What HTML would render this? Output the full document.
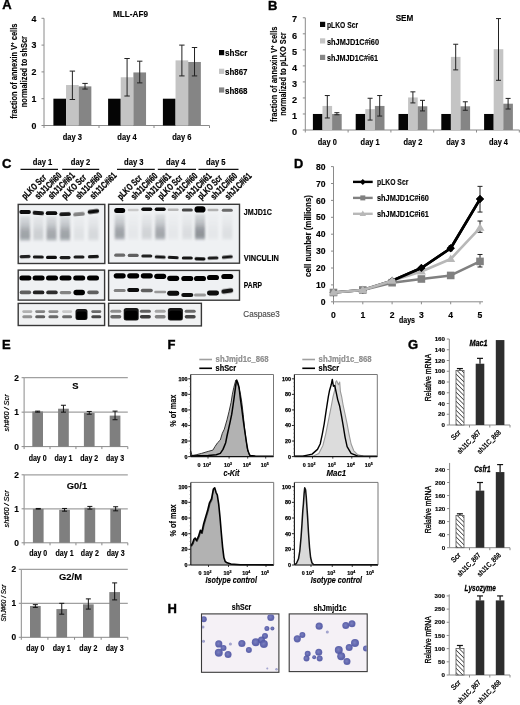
<!DOCTYPE html>
<html><head><meta charset="utf-8"><style>
html,body{margin:0;padding:0;background:#fff;}
body{width:520px;height:705px;overflow:hidden;}
svg{display:block;will-change:transform;font-family:"Liberation Sans", sans-serif;}
</style></head><body>
<svg width="520" height="705" viewBox="0 0 520 705">
<defs>
<filter id="b1" x="-50%" y="-50%" width="200%" height="200%"><feGaussianBlur stdDeviation="0.8"/></filter>
<filter id="b2" x="-50%" y="-50%" width="200%" height="200%"><feGaussianBlur stdDeviation="1.6"/></filter>
<filter id="b3" x="-50%" y="-50%" width="200%" height="200%"><feGaussianBlur stdDeviation="0.5"/></filter>
<linearGradient id="smg" x1="0" y1="0" x2="0" y2="1"><stop offset="0" stop-color="#5a6068" stop-opacity="0.15"/><stop offset="0.35" stop-color="#5a6068" stop-opacity="0.35"/><stop offset="0.6" stop-color="#4a5058" stop-opacity="0.55"/><stop offset="0.85" stop-color="#4a5058" stop-opacity="0.6"/><stop offset="1" stop-color="#4a5058" stop-opacity="0.25"/></linearGradient>
<radialGradient id="cellg" cx="0.45" cy="0.45" r="0.6"><stop offset="0" stop-color="#7076bc"/><stop offset="0.7" stop-color="#5157a4"/><stop offset="1" stop-color="#5c62ac"/></radialGradient>
<pattern id="hatch" patternUnits="userSpaceOnUse" width="3.2" height="3.2" patternTransform="rotate(-45)"><rect width="3.2" height="3.2" fill="#fff"/><line x1="0" y1="0" x2="0" y2="3.2" stroke="#3a3a3a" stroke-width="1.5"/></pattern>
<clipPath id="hc1"><rect x="202" y="614.4" width="76.4" height="57.4"/></clipPath><clipPath id="hc2"><rect x="289.7" y="614.4" width="77" height="56.7"/></clipPath>
</defs>
<text x="2.30" y="9.40" font-size="13" text-anchor="start" font-weight="bold"  stroke="#000" stroke-width="0.4">A</text>
<text x="130.50" y="16.60" font-size="9.5" text-anchor="middle" font-weight="bold" textLength="35" lengthAdjust="spacingAndGlyphs"  stroke="#000" stroke-width="0.15">MLL-AF9</text>
<line x1="44.00" y1="18.30" x2="44.00" y2="125.50" stroke="#8a8a8a" stroke-width="1" />
<line x1="41.50" y1="125.50" x2="44.00" y2="125.50" stroke="#8a8a8a" stroke-width="1" />
<text x="36.30" y="128.70" font-size="8.8" text-anchor="end" font-weight="bold"  stroke="#000" stroke-width="0.15">0</text>
<line x1="41.50" y1="98.70" x2="44.00" y2="98.70" stroke="#8a8a8a" stroke-width="1" />
<text x="36.30" y="101.90" font-size="8.8" text-anchor="end" font-weight="bold"  stroke="#000" stroke-width="0.15">1</text>
<line x1="41.50" y1="71.90" x2="44.00" y2="71.90" stroke="#8a8a8a" stroke-width="1" />
<text x="36.30" y="75.10" font-size="8.8" text-anchor="end" font-weight="bold"  stroke="#000" stroke-width="0.15">2</text>
<line x1="41.50" y1="45.10" x2="44.00" y2="45.10" stroke="#8a8a8a" stroke-width="1" />
<text x="36.30" y="48.30" font-size="8.8" text-anchor="end" font-weight="bold"  stroke="#000" stroke-width="0.15">3</text>
<line x1="41.50" y1="18.30" x2="44.00" y2="18.30" stroke="#8a8a8a" stroke-width="1" />
<text x="36.30" y="21.50" font-size="8.8" text-anchor="end" font-weight="bold"  stroke="#000" stroke-width="0.15">4</text>
<line x1="44.00" y1="125.50" x2="209.50" y2="125.50" stroke="#8a8a8a" stroke-width="1" />
<line x1="44.00" y1="125.50" x2="44.00" y2="128.00" stroke="#8a8a8a" stroke-width="1" />
<line x1="99.00" y1="125.50" x2="99.00" y2="128.00" stroke="#8a8a8a" stroke-width="1" />
<line x1="154.00" y1="125.50" x2="154.00" y2="128.00" stroke="#8a8a8a" stroke-width="1" />
<line x1="209.50" y1="125.50" x2="209.50" y2="128.00" stroke="#8a8a8a" stroke-width="1" />
<text x="17.20" y="71.20" font-size="8.3" text-anchor="middle" font-weight="bold" textLength="95.3" lengthAdjust="spacingAndGlyphs" transform="rotate(-90 17.20 71.20)"  stroke="#000" stroke-width="0.15">fraction of annexin V<tspan font-size="5" dy="-3">+</tspan><tspan dy="3"> cells</tspan></text>
<text x="26.90" y="71.60" font-size="8.3" text-anchor="middle" font-weight="bold" textLength="71.2" lengthAdjust="spacingAndGlyphs" transform="rotate(-90 26.90 71.60)"  stroke="#000" stroke-width="0.15">normalized to shScr</text>
<rect x="53.40" y="98.70" width="12.65" height="26.80" fill="#050505" />
<rect x="66.05" y="85.03" width="12.65" height="40.47" fill="#c4c4c4" />
<rect x="78.70" y="86.37" width="12.65" height="39.13" fill="#858585" />
<line x1="72.38" y1="71.10" x2="72.38" y2="99.50" stroke="#222" stroke-width="1" />
<line x1="69.67" y1="71.10" x2="75.08" y2="71.10" stroke="#222" stroke-width="1" />
<line x1="69.67" y1="99.50" x2="75.08" y2="99.50" stroke="#222" stroke-width="1" />
<line x1="85.03" y1="83.42" x2="85.03" y2="89.05" stroke="#222" stroke-width="1" />
<line x1="82.33" y1="83.42" x2="87.73" y2="83.42" stroke="#222" stroke-width="1" />
<line x1="82.33" y1="89.05" x2="87.73" y2="89.05" stroke="#222" stroke-width="1" />
<rect x="108.10" y="98.70" width="12.65" height="26.80" fill="#050505" />
<rect x="120.75" y="77.26" width="12.65" height="48.24" fill="#c4c4c4" />
<rect x="133.40" y="72.44" width="12.65" height="53.06" fill="#858585" />
<line x1="127.08" y1="58.50" x2="127.08" y2="96.02" stroke="#222" stroke-width="1" />
<line x1="124.38" y1="58.50" x2="129.78" y2="58.50" stroke="#222" stroke-width="1" />
<line x1="124.38" y1="96.02" x2="129.78" y2="96.02" stroke="#222" stroke-width="1" />
<line x1="139.72" y1="61.18" x2="139.72" y2="82.89" stroke="#222" stroke-width="1" />
<line x1="137.03" y1="61.18" x2="142.42" y2="61.18" stroke="#222" stroke-width="1" />
<line x1="137.03" y1="82.89" x2="142.42" y2="82.89" stroke="#222" stroke-width="1" />
<rect x="162.90" y="98.70" width="12.65" height="26.80" fill="#050505" />
<rect x="175.55" y="60.38" width="12.65" height="65.12" fill="#c4c4c4" />
<rect x="188.20" y="61.98" width="12.65" height="63.52" fill="#858585" />
<line x1="181.88" y1="45.10" x2="181.88" y2="75.92" stroke="#222" stroke-width="1" />
<line x1="179.18" y1="45.10" x2="184.57" y2="45.10" stroke="#222" stroke-width="1" />
<line x1="179.18" y1="75.92" x2="184.57" y2="75.92" stroke="#222" stroke-width="1" />
<line x1="194.53" y1="47.51" x2="194.53" y2="75.92" stroke="#222" stroke-width="1" />
<line x1="191.83" y1="47.51" x2="197.22" y2="47.51" stroke="#222" stroke-width="1" />
<line x1="191.83" y1="75.92" x2="197.22" y2="75.92" stroke="#222" stroke-width="1" />
<text x="72.30" y="139.80" font-size="8.8" text-anchor="middle" font-weight="bold" textLength="19.3" lengthAdjust="spacingAndGlyphs"  stroke="#000" stroke-width="0.15">day 3</text>
<text x="127.00" y="139.80" font-size="8.8" text-anchor="middle" font-weight="bold" textLength="19.3" lengthAdjust="spacingAndGlyphs"  stroke="#000" stroke-width="0.15">day 4</text>
<text x="181.80" y="139.80" font-size="8.8" text-anchor="middle" font-weight="bold" textLength="19.3" lengthAdjust="spacingAndGlyphs"  stroke="#000" stroke-width="0.15">day 6</text>
<rect x="219.00" y="50.00" width="5.20" height="5.20" fill="#050505" />
<text x="225.00" y="56.30" font-size="9.2" text-anchor="start" font-weight="bold" textLength="22.5" lengthAdjust="spacingAndGlyphs"  stroke="#000" stroke-width="0.15">shScr</text>
<rect x="219.00" y="68.70" width="5.20" height="5.20" fill="#c4c4c4" />
<text x="225.00" y="75.00" font-size="9.2" text-anchor="start" font-weight="bold" textLength="22.5" lengthAdjust="spacingAndGlyphs"  stroke="#000" stroke-width="0.15">sh867</text>
<rect x="219.00" y="87.40" width="5.20" height="5.20" fill="#858585" />
<text x="225.00" y="93.70" font-size="9.2" text-anchor="start" font-weight="bold" textLength="22.5" lengthAdjust="spacingAndGlyphs"  stroke="#000" stroke-width="0.15">sh868</text>
<text x="268.00" y="9.50" font-size="13" text-anchor="start" font-weight="bold"  stroke="#000" stroke-width="0.4">B</text>
<text x="404.50" y="20.60" font-size="9.5" text-anchor="middle" font-weight="bold" textLength="17.7" lengthAdjust="spacingAndGlyphs"  stroke="#000" stroke-width="0.15">SEM</text>
<line x1="305.30" y1="17.79" x2="305.30" y2="130.00" stroke="#8a8a8a" stroke-width="1" />
<line x1="302.80" y1="130.00" x2="305.30" y2="130.00" stroke="#8a8a8a" stroke-width="1" />
<text x="297.00" y="134.70" font-size="9.2" text-anchor="end" font-weight="bold"  stroke="#000" stroke-width="0.15">0</text>
<line x1="302.80" y1="113.97" x2="305.30" y2="113.97" stroke="#8a8a8a" stroke-width="1" />
<text x="297.00" y="118.67" font-size="9.2" text-anchor="end" font-weight="bold"  stroke="#000" stroke-width="0.15">1</text>
<line x1="302.80" y1="97.94" x2="305.30" y2="97.94" stroke="#8a8a8a" stroke-width="1" />
<text x="297.00" y="102.64" font-size="9.2" text-anchor="end" font-weight="bold"  stroke="#000" stroke-width="0.15">2</text>
<line x1="302.80" y1="81.91" x2="305.30" y2="81.91" stroke="#8a8a8a" stroke-width="1" />
<text x="297.00" y="86.61" font-size="9.2" text-anchor="end" font-weight="bold"  stroke="#000" stroke-width="0.15">3</text>
<line x1="302.80" y1="65.88" x2="305.30" y2="65.88" stroke="#8a8a8a" stroke-width="1" />
<text x="297.00" y="70.58" font-size="9.2" text-anchor="end" font-weight="bold"  stroke="#000" stroke-width="0.15">4</text>
<line x1="302.80" y1="49.85" x2="305.30" y2="49.85" stroke="#8a8a8a" stroke-width="1" />
<text x="297.00" y="54.55" font-size="9.2" text-anchor="end" font-weight="bold"  stroke="#000" stroke-width="0.15">5</text>
<line x1="302.80" y1="33.82" x2="305.30" y2="33.82" stroke="#8a8a8a" stroke-width="1" />
<text x="297.00" y="38.52" font-size="9.2" text-anchor="end" font-weight="bold"  stroke="#000" stroke-width="0.15">6</text>
<line x1="302.80" y1="17.79" x2="305.30" y2="17.79" stroke="#8a8a8a" stroke-width="1" />
<text x="297.00" y="22.49" font-size="9.2" text-anchor="end" font-weight="bold"  stroke="#000" stroke-width="0.15">7</text>
<line x1="305.30" y1="130.00" x2="519.50" y2="130.00" stroke="#8a8a8a" stroke-width="1" />
<line x1="305.30" y1="130.00" x2="305.30" y2="132.50" stroke="#8a8a8a" stroke-width="1" />
<line x1="348.10" y1="130.00" x2="348.10" y2="132.50" stroke="#8a8a8a" stroke-width="1" />
<line x1="390.90" y1="130.00" x2="390.90" y2="132.50" stroke="#8a8a8a" stroke-width="1" />
<line x1="433.70" y1="130.00" x2="433.70" y2="132.50" stroke="#8a8a8a" stroke-width="1" />
<line x1="476.50" y1="130.00" x2="476.50" y2="132.50" stroke="#8a8a8a" stroke-width="1" />
<line x1="519.30" y1="130.00" x2="519.30" y2="132.50" stroke="#8a8a8a" stroke-width="1" />
<text x="276.70" y="74.30" font-size="8.3" text-anchor="middle" font-weight="bold" textLength="95.5" lengthAdjust="spacingAndGlyphs" transform="rotate(-90 276.70 74.30)"  stroke="#000" stroke-width="0.15">fraction of annexin V<tspan font-size="5" dy="-3">+</tspan><tspan dy="3"> cells</tspan></text>
<text x="285.90" y="74.10" font-size="8.3" text-anchor="middle" font-weight="bold" textLength="83.3" lengthAdjust="spacingAndGlyphs" transform="rotate(-90 285.90 74.10)"  stroke="#000" stroke-width="0.15">normalized to pLKO Scr</text>
<rect x="312.90" y="113.97" width="9.60" height="16.03" fill="#050505" />
<rect x="322.50" y="105.95" width="9.60" height="24.05" fill="#c4c4c4" />
<rect x="332.10" y="113.97" width="9.60" height="16.03" fill="#858585" />
<line x1="327.30" y1="95.54" x2="327.30" y2="117.98" stroke="#222" stroke-width="1" />
<line x1="324.80" y1="95.54" x2="329.80" y2="95.54" stroke="#222" stroke-width="1" />
<line x1="324.80" y1="117.98" x2="329.80" y2="117.98" stroke="#222" stroke-width="1" />
<line x1="336.90" y1="112.69" x2="336.90" y2="114.77" stroke="#222" stroke-width="1" />
<line x1="334.40" y1="112.69" x2="339.40" y2="112.69" stroke="#222" stroke-width="1" />
<line x1="334.40" y1="114.77" x2="339.40" y2="114.77" stroke="#222" stroke-width="1" />
<text x="327.30" y="145.00" font-size="8.8" text-anchor="middle" font-weight="bold" textLength="19" lengthAdjust="spacingAndGlyphs"  stroke="#000" stroke-width="0.15">day 0</text>
<rect x="355.70" y="113.97" width="9.60" height="16.03" fill="#050505" />
<rect x="365.30" y="109.16" width="9.60" height="20.84" fill="#c4c4c4" />
<rect x="374.90" y="105.95" width="9.60" height="24.05" fill="#858585" />
<line x1="370.10" y1="98.26" x2="370.10" y2="120.06" stroke="#222" stroke-width="1" />
<line x1="367.60" y1="98.26" x2="372.60" y2="98.26" stroke="#222" stroke-width="1" />
<line x1="367.60" y1="120.06" x2="372.60" y2="120.06" stroke="#222" stroke-width="1" />
<line x1="379.70" y1="95.54" x2="379.70" y2="116.05" stroke="#222" stroke-width="1" />
<line x1="377.20" y1="95.54" x2="382.20" y2="95.54" stroke="#222" stroke-width="1" />
<line x1="377.20" y1="116.05" x2="382.20" y2="116.05" stroke="#222" stroke-width="1" />
<text x="370.10" y="145.00" font-size="8.8" text-anchor="middle" font-weight="bold" textLength="19" lengthAdjust="spacingAndGlyphs"  stroke="#000" stroke-width="0.15">day 1</text>
<rect x="398.50" y="113.97" width="9.60" height="16.03" fill="#050505" />
<rect x="408.10" y="97.46" width="9.60" height="32.54" fill="#c4c4c4" />
<rect x="417.70" y="106.28" width="9.60" height="23.72" fill="#858585" />
<line x1="412.90" y1="91.85" x2="412.90" y2="102.91" stroke="#222" stroke-width="1" />
<line x1="410.40" y1="91.85" x2="415.40" y2="91.85" stroke="#222" stroke-width="1" />
<line x1="410.40" y1="102.91" x2="415.40" y2="102.91" stroke="#222" stroke-width="1" />
<line x1="422.50" y1="100.34" x2="422.50" y2="110.92" stroke="#222" stroke-width="1" />
<line x1="420.00" y1="100.34" x2="425.00" y2="100.34" stroke="#222" stroke-width="1" />
<line x1="420.00" y1="110.92" x2="425.00" y2="110.92" stroke="#222" stroke-width="1" />
<text x="412.90" y="145.00" font-size="8.8" text-anchor="middle" font-weight="bold" textLength="19" lengthAdjust="spacingAndGlyphs"  stroke="#000" stroke-width="0.15">day 2</text>
<rect x="441.30" y="113.97" width="9.60" height="16.03" fill="#050505" />
<rect x="450.90" y="56.90" width="9.60" height="73.10" fill="#c4c4c4" />
<rect x="460.50" y="106.28" width="9.60" height="23.72" fill="#858585" />
<line x1="455.70" y1="44.24" x2="455.70" y2="69.89" stroke="#222" stroke-width="1" />
<line x1="453.20" y1="44.24" x2="458.20" y2="44.24" stroke="#222" stroke-width="1" />
<line x1="453.20" y1="69.89" x2="458.20" y2="69.89" stroke="#222" stroke-width="1" />
<line x1="465.30" y1="101.79" x2="465.30" y2="110.28" stroke="#222" stroke-width="1" />
<line x1="462.80" y1="101.79" x2="467.80" y2="101.79" stroke="#222" stroke-width="1" />
<line x1="462.80" y1="110.28" x2="467.80" y2="110.28" stroke="#222" stroke-width="1" />
<text x="455.70" y="145.00" font-size="8.8" text-anchor="middle" font-weight="bold" textLength="19" lengthAdjust="spacingAndGlyphs"  stroke="#000" stroke-width="0.15">day 3</text>
<rect x="484.10" y="113.97" width="9.60" height="16.03" fill="#050505" />
<rect x="493.70" y="49.21" width="9.60" height="80.79" fill="#c4c4c4" />
<rect x="503.30" y="103.71" width="9.60" height="26.29" fill="#858585" />
<line x1="498.50" y1="18.59" x2="498.50" y2="80.31" stroke="#222" stroke-width="1" />
<line x1="496.00" y1="18.59" x2="501.00" y2="18.59" stroke="#222" stroke-width="1" />
<line x1="496.00" y1="80.31" x2="501.00" y2="80.31" stroke="#222" stroke-width="1" />
<line x1="508.10" y1="98.42" x2="508.10" y2="109.00" stroke="#222" stroke-width="1" />
<line x1="505.60" y1="98.42" x2="510.60" y2="98.42" stroke="#222" stroke-width="1" />
<line x1="505.60" y1="109.00" x2="510.60" y2="109.00" stroke="#222" stroke-width="1" />
<text x="498.50" y="145.00" font-size="8.8" text-anchor="middle" font-weight="bold" textLength="19" lengthAdjust="spacingAndGlyphs"  stroke="#000" stroke-width="0.15">day 4</text>
<rect x="320.00" y="21.80" width="5.20" height="5.20" fill="#050505" />
<text x="327.00" y="28.30" font-size="9.2" text-anchor="start" font-weight="bold" textLength="31" lengthAdjust="spacingAndGlyphs"  stroke="#000" stroke-width="0.15">pLKO Scr</text>
<rect x="320.00" y="38.30" width="5.20" height="5.20" fill="#c4c4c4" />
<text x="327.00" y="44.80" font-size="9.2" text-anchor="start" font-weight="bold" textLength="52" lengthAdjust="spacingAndGlyphs"  stroke="#000" stroke-width="0.15">shJMJD1C#i60</text>
<rect x="320.00" y="54.80" width="5.20" height="5.20" fill="#858585" />
<text x="327.00" y="61.30" font-size="9.2" text-anchor="start" font-weight="bold" textLength="51" lengthAdjust="spacingAndGlyphs"  stroke="#000" stroke-width="0.15">shJMJD1C#i61</text>
<text x="2.00" y="168.30" font-size="13" text-anchor="start" font-weight="bold"  stroke="#000" stroke-width="0.4">C</text>
<text x="42.50" y="165.00" font-size="8.6" text-anchor="middle" font-weight="bold" textLength="19.5" lengthAdjust="spacingAndGlyphs"  stroke="#000" stroke-width="0.15">day 1</text>
<line x1="20.50" y1="169.30" x2="58.00" y2="169.30" stroke="#111" stroke-width="1.2" />
<text x="80.50" y="165.00" font-size="8.6" text-anchor="middle" font-weight="bold" textLength="19.5" lengthAdjust="spacingAndGlyphs"  stroke="#000" stroke-width="0.15">day 2</text>
<line x1="62.20" y1="169.30" x2="99.20" y2="169.30" stroke="#111" stroke-width="1.2" />
<text x="133.80" y="165.00" font-size="8.6" text-anchor="middle" font-weight="bold" textLength="19.5" lengthAdjust="spacingAndGlyphs"  stroke="#000" stroke-width="0.15">day 3</text>
<line x1="117.00" y1="169.30" x2="154.80" y2="169.30" stroke="#111" stroke-width="1.2" />
<text x="175.80" y="165.00" font-size="8.6" text-anchor="middle" font-weight="bold" textLength="19.5" lengthAdjust="spacingAndGlyphs"  stroke="#000" stroke-width="0.15">day 4</text>
<line x1="157.80" y1="169.30" x2="196.00" y2="169.30" stroke="#111" stroke-width="1.2" />
<text x="215.80" y="165.00" font-size="8.6" text-anchor="middle" font-weight="bold" textLength="19.5" lengthAdjust="spacingAndGlyphs"  stroke="#000" stroke-width="0.15">day 5</text>
<line x1="198.50" y1="169.30" x2="238.50" y2="169.30" stroke="#111" stroke-width="1.2" />
<text x="25.30" y="199.80" font-size="9.4" text-anchor="start" font-weight="bold" textLength="30.5" lengthAdjust="spacingAndGlyphs" transform="rotate(-45 25.30 199.80)" stroke="#000" stroke-width="0.3">pLKO Scr</text>
<text x="38.50" y="199.80" font-size="9.4" text-anchor="start" font-weight="bold" textLength="33.5" lengthAdjust="spacingAndGlyphs" transform="rotate(-45 38.50 199.80)" stroke="#000" stroke-width="0.3">shJ1C#i60</text>
<text x="51.70" y="199.80" font-size="9.4" text-anchor="start" font-weight="bold" textLength="33.5" lengthAdjust="spacingAndGlyphs" transform="rotate(-45 51.70 199.80)" stroke="#000" stroke-width="0.3">shJ1C#i61</text>
<text x="65.30" y="199.80" font-size="9.4" text-anchor="start" font-weight="bold" textLength="30.5" lengthAdjust="spacingAndGlyphs" transform="rotate(-45 65.30 199.80)" stroke="#000" stroke-width="0.3">pLKO Scr</text>
<text x="79.20" y="199.80" font-size="9.4" text-anchor="start" font-weight="bold" textLength="33.5" lengthAdjust="spacingAndGlyphs" transform="rotate(-45 79.20 199.80)" stroke="#000" stroke-width="0.3">shJ1C#i60</text>
<text x="93.60" y="199.80" font-size="9.4" text-anchor="start" font-weight="bold" textLength="33.5" lengthAdjust="spacingAndGlyphs" transform="rotate(-45 93.60 199.80)" stroke="#000" stroke-width="0.3">shJ1C#i61</text>
<text x="120.90" y="200.20" font-size="9.4" text-anchor="start" font-weight="bold" textLength="30.5" lengthAdjust="spacingAndGlyphs" transform="rotate(-45 120.90 200.20)" stroke="#000" stroke-width="0.3">pLKO Scr</text>
<text x="134.40" y="200.20" font-size="9.4" text-anchor="start" font-weight="bold" textLength="33.5" lengthAdjust="spacingAndGlyphs" transform="rotate(-45 134.40 200.20)" stroke="#000" stroke-width="0.3">shJ1C#i60</text>
<text x="148.00" y="200.20" font-size="9.4" text-anchor="start" font-weight="bold" textLength="33.5" lengthAdjust="spacingAndGlyphs" transform="rotate(-45 148.00 200.20)" stroke="#000" stroke-width="0.3">shJ1C#i61</text>
<text x="161.40" y="200.20" font-size="9.4" text-anchor="start" font-weight="bold" textLength="30.5" lengthAdjust="spacingAndGlyphs" transform="rotate(-45 161.40 200.20)" stroke="#000" stroke-width="0.3">pLKO Scr</text>
<text x="174.40" y="200.20" font-size="9.4" text-anchor="start" font-weight="bold" textLength="33.5" lengthAdjust="spacingAndGlyphs" transform="rotate(-45 174.40 200.20)" stroke="#000" stroke-width="0.3">shJ1C#i60</text>
<text x="188.50" y="200.20" font-size="9.4" text-anchor="start" font-weight="bold" textLength="33.5" lengthAdjust="spacingAndGlyphs" transform="rotate(-45 188.50 200.20)" stroke="#000" stroke-width="0.3">shJ1C#i61</text>
<text x="201.20" y="200.20" font-size="9.4" text-anchor="start" font-weight="bold" textLength="30.5" lengthAdjust="spacingAndGlyphs" transform="rotate(-45 201.20 200.20)" stroke="#000" stroke-width="0.3">pLKO Scr</text>
<text x="214.20" y="200.20" font-size="9.4" text-anchor="start" font-weight="bold" textLength="33.5" lengthAdjust="spacingAndGlyphs" transform="rotate(-45 214.20 200.20)" stroke="#000" stroke-width="0.3">shJ1C#i60</text>
<text x="228.50" y="200.20" font-size="9.4" text-anchor="start" font-weight="bold" textLength="33.5" lengthAdjust="spacingAndGlyphs" transform="rotate(-45 228.50 200.20)" stroke="#000" stroke-width="0.3">shJ1C#i61</text>
<rect x="18.20" y="204.40" width="86.60" height="59.10" fill="#eff1f3" />
<rect x="18.20" y="270.10" width="86.40" height="30.00" fill="#eff1f3" />
<rect x="18.20" y="303.40" width="86.40" height="22.10" fill="#f1f2f3" />
<rect x="108.60" y="204.30" width="130.90" height="58.90" fill="#eff1f3" />
<rect x="108.60" y="270.40" width="130.90" height="29.80" fill="#eff1f3" />
<rect x="108.60" y="303.30" width="92.80" height="22.60" fill="#f1f2f3" />
<rect x="20.10" y="216.00" width="10.00" height="25.00" fill="url(#smg)" opacity="0.83" filter="url(#b1)"/>
<rect x="19.35" y="210.10" width="11.50" height="3.80" rx="1.90" fill="rgb(7,7,7)" filter="url(#b3)"/>
<rect x="33.30" y="216.00" width="10.00" height="25.00" fill="url(#smg)" opacity="0.36" filter="url(#b1)"/>
<rect x="32.55" y="211.10" width="11.50" height="3.80" rx="1.90" fill="rgb(24,24,24)" filter="url(#b3)" transform="rotate(4 38.30 213.00)"/>
<rect x="46.50" y="216.00" width="10.00" height="25.00" fill="url(#smg)" opacity="0.78" filter="url(#b1)"/>
<rect x="45.75" y="211.30" width="11.50" height="3.80" rx="1.90" fill="rgb(7,7,7)" filter="url(#b3)"/>
<rect x="60.10" y="216.00" width="10.00" height="25.00" fill="url(#smg)" opacity="0.83" filter="url(#b1)"/>
<rect x="59.35" y="212.30" width="11.50" height="3.80" rx="1.90" fill="rgb(24,24,24)" filter="url(#b3)" transform="rotate(-2 65.10 214.20)"/>
<rect x="74.00" y="216.00" width="10.00" height="25.00" fill="url(#smg)" opacity="0.16" filter="url(#b1)"/>
<rect x="73.25" y="212.30" width="11.50" height="3.80" rx="1.90" fill="rgb(130,130,130)" filter="url(#b3)" transform="rotate(-5 79.00 214.20)"/>
<rect x="88.40" y="216.00" width="10.00" height="25.00" fill="url(#smg)" opacity="0.26" filter="url(#b1)"/>
<rect x="87.65" y="209.60" width="11.50" height="3.80" rx="1.90" fill="rgb(12,12,12)" filter="url(#b3)" transform="rotate(-7 93.40 211.50)"/>
<rect x="114.70" y="214.00" width="10.00" height="26.00" fill="url(#smg)" opacity="0.83" filter="url(#b1)"/>
<rect x="114.20" y="207.90" width="11.00" height="5.00" rx="2.50" fill="rgb(0,0,0)" filter="url(#b3)"/>
<rect x="128.20" y="214.00" width="10.00" height="26.00" fill="url(#smg)" opacity="0.10" filter="url(#b1)"/>
<rect x="127.70" y="208.75" width="11.00" height="2.50" rx="1.25" fill="rgb(201,201,201)" filter="url(#b3)"/>
<rect x="141.80" y="214.00" width="10.00" height="26.00" fill="url(#smg)" opacity="0.31" filter="url(#b1)"/>
<rect x="141.30" y="207.50" width="11.00" height="3.60" rx="1.80" fill="rgb(12,12,12)" filter="url(#b3)"/>
<rect x="155.20" y="214.00" width="10.00" height="26.00" fill="url(#smg)" opacity="0.78" filter="url(#b1)"/>
<rect x="154.70" y="207.60" width="11.00" height="3.40" rx="1.70" fill="rgb(12,12,12)" filter="url(#b3)"/>
<rect x="168.20" y="214.00" width="10.00" height="26.00" fill="url(#smg)" opacity="0.10" filter="url(#b1)"/>
<rect x="167.70" y="208.45" width="11.00" height="2.50" rx="1.25" fill="rgb(184,184,184)" filter="url(#b3)"/>
<rect x="182.30" y="214.00" width="10.00" height="26.00" fill="url(#smg)" opacity="0.21" filter="url(#b1)"/>
<rect x="181.80" y="208.50" width="11.00" height="3.00" rx="1.50" fill="rgb(71,71,71)" filter="url(#b3)"/>
<rect x="195.00" y="214.00" width="10.00" height="26.00" fill="url(#smg)" opacity="0.99" filter="url(#b1)"/>
<rect x="194.50" y="206.25" width="11.00" height="6.30" rx="3.15" fill="rgb(0,0,0)" filter="url(#b3)"/>
<rect x="208.00" y="214.00" width="10.00" height="26.00" fill="url(#smg)" opacity="0.10" filter="url(#b1)"/>
<rect x="207.50" y="208.75" width="11.00" height="2.50" rx="1.25" fill="rgb(177,177,177)" filter="url(#b3)"/>
<rect x="222.30" y="214.00" width="10.00" height="26.00" fill="url(#smg)" opacity="0.18" filter="url(#b1)"/>
<rect x="221.80" y="208.80" width="11.00" height="3.00" rx="1.50" fill="rgb(106,106,106)" filter="url(#b3)"/>
<rect x="19.60" y="255.00" width="11.00" height="3.20" rx="1.60" fill="rgb(35,35,35)" filter="url(#b3)" transform="rotate(-2 25.10 256.60)"/>
<rect x="32.80" y="255.40" width="11.00" height="3.20" rx="1.60" fill="rgb(24,24,24)" filter="url(#b3)" transform="rotate(1 38.30 257.00)"/>
<rect x="46.00" y="255.80" width="11.00" height="3.20" rx="1.60" fill="rgb(12,12,12)" filter="url(#b3)"/>
<rect x="59.60" y="256.00" width="11.00" height="3.20" rx="1.60" fill="rgb(28,28,28)" filter="url(#b3)"/>
<rect x="73.50" y="255.40" width="11.00" height="3.20" rx="1.60" fill="rgb(28,28,28)" filter="url(#b3)"/>
<rect x="87.90" y="255.10" width="11.00" height="3.20" rx="1.60" fill="rgb(19,19,19)" filter="url(#b3)" transform="rotate(-2 93.40 256.70)"/>
<rect x="114.20" y="253.60" width="11.00" height="3.20" rx="1.60" fill="rgb(106,106,106)" filter="url(#b3)"/>
<rect x="127.70" y="253.80" width="11.00" height="3.20" rx="1.60" fill="rgb(94,94,94)" filter="url(#b3)"/>
<rect x="141.30" y="254.40" width="11.00" height="3.20" rx="1.60" fill="rgb(35,35,35)" filter="url(#b3)"/>
<rect x="154.70" y="255.40" width="11.00" height="3.20" rx="1.60" fill="rgb(24,24,24)" filter="url(#b3)" transform="rotate(3 160.20 257.00)"/>
<rect x="167.70" y="255.90" width="11.00" height="3.20" rx="1.60" fill="rgb(24,24,24)" filter="url(#b3)" transform="rotate(3 173.20 257.50)"/>
<rect x="181.80" y="256.40" width="11.00" height="3.20" rx="1.60" fill="rgb(19,19,19)" filter="url(#b3)"/>
<rect x="194.50" y="257.20" width="11.00" height="3.20" rx="1.60" fill="rgb(12,12,12)" filter="url(#b3)" transform="rotate(2 200.00 258.80)"/>
<rect x="207.50" y="256.40" width="11.00" height="3.20" rx="1.60" fill="rgb(28,28,28)" filter="url(#b3)" transform="rotate(-2 213.00 258.00)"/>
<rect x="221.80" y="255.40" width="11.00" height="3.20" rx="1.60" fill="rgb(24,24,24)" filter="url(#b3)" transform="rotate(-5 227.30 257.00)"/>
<rect x="19.40" y="275.50" width="12.00" height="5.00" rx="2.50" fill="rgb(0,0,0)" filter="url(#b3)"/>
<rect x="32.60" y="275.50" width="12.00" height="5.00" rx="2.50" fill="rgb(0,0,0)" filter="url(#b3)"/>
<rect x="46.00" y="275.50" width="12.00" height="5.00" rx="2.50" fill="rgb(0,0,0)" filter="url(#b3)"/>
<rect x="59.50" y="275.50" width="12.00" height="5.00" rx="2.50" fill="rgb(0,0,0)" filter="url(#b3)"/>
<rect x="73.20" y="275.50" width="12.00" height="5.00" rx="2.50" fill="rgb(0,0,0)" filter="url(#b3)"/>
<rect x="87.00" y="275.50" width="12.00" height="5.00" rx="2.50" fill="rgb(0,0,0)" filter="url(#b3)"/>
<rect x="113.70" y="273.20" width="12.00" height="5.20" rx="2.60" fill="rgb(0,0,0)" filter="url(#b3)"/>
<rect x="127.20" y="273.20" width="12.00" height="5.20" rx="2.60" fill="rgb(0,0,0)" filter="url(#b3)"/>
<rect x="140.80" y="273.20" width="12.00" height="5.20" rx="2.60" fill="rgb(0,0,0)" filter="url(#b3)"/>
<rect x="154.20" y="273.70" width="12.00" height="5.20" rx="2.60" fill="rgb(0,0,0)" filter="url(#b3)"/>
<rect x="167.20" y="275.70" width="12.00" height="5.20" rx="2.60" fill="rgb(0,0,0)" filter="url(#b3)"/>
<rect x="181.30" y="275.90" width="12.00" height="5.20" rx="2.60" fill="rgb(0,0,0)" filter="url(#b3)"/>
<rect x="194.00" y="275.90" width="12.00" height="5.20" rx="2.60" fill="rgb(0,0,0)" filter="url(#b3)"/>
<rect x="207.00" y="274.90" width="12.00" height="5.20" rx="2.60" fill="rgb(0,0,0)" filter="url(#b3)"/>
<rect x="221.30" y="273.90" width="12.00" height="5.20" rx="2.60" fill="rgb(0,0,0)" filter="url(#b3)"/>
<rect x="19.65" y="290.60" width="11.50" height="3.60" rx="1.80" fill="rgb(94,94,94)" filter="url(#b3)"/>
<rect x="32.85" y="290.50" width="11.50" height="3.80" rx="1.90" fill="rgb(35,35,35)" filter="url(#b3)"/>
<rect x="46.25" y="290.50" width="11.50" height="3.80" rx="1.90" fill="rgb(47,47,47)" filter="url(#b3)"/>
<rect x="59.75" y="291.00" width="11.50" height="3.20" rx="1.60" fill="rgb(130,130,130)" filter="url(#b3)"/>
<rect x="73.45" y="289.65" width="11.50" height="5.50" rx="2.75" fill="rgb(0,0,0)" filter="url(#b3)"/>
<rect x="87.25" y="290.60" width="11.50" height="3.60" rx="1.80" fill="rgb(94,94,94)" filter="url(#b3)"/>
<rect x="113.70" y="289.00" width="12.00" height="3.00" rx="1.50" fill="rgb(130,130,130)" filter="url(#b3)"/>
<rect x="127.20" y="287.90" width="12.00" height="4.20" rx="2.10" fill="rgb(7,7,7)" filter="url(#b3)"/>
<rect x="140.80" y="288.80" width="12.00" height="3.40" rx="1.70" fill="rgb(94,94,94)" filter="url(#b3)"/>
<rect x="154.20" y="290.70" width="12.00" height="2.60" rx="1.30" fill="rgb(153,153,153)" filter="url(#b3)"/>
<rect x="167.20" y="290.80" width="12.00" height="5.00" rx="2.50" fill="rgb(7,7,7)" filter="url(#b3)"/>
<rect x="181.30" y="292.90" width="12.00" height="4.20" rx="2.10" fill="rgb(12,12,12)" filter="url(#b3)"/>
<rect x="194.00" y="293.50" width="12.00" height="3.00" rx="1.50" fill="rgb(153,153,153)" filter="url(#b3)"/>
<rect x="207.00" y="290.60" width="12.00" height="4.80" rx="2.40" fill="rgb(7,7,7)" filter="url(#b3)"/>
<rect x="221.30" y="288.70" width="12.00" height="4.60" rx="2.30" fill="rgb(24,24,24)" filter="url(#b3)" transform="rotate(-8 227.30 291.00)"/>
<rect x="22.30" y="310.30" width="10.00" height="2.60" rx="1.30" fill="rgb(177,177,177)" filter="url(#b3)"/>
<rect x="22.30" y="315.20" width="10.00" height="3.00" rx="1.50" fill="rgb(146,146,146)" filter="url(#b3)"/>
<rect x="35.20" y="310.30" width="10.00" height="2.60" rx="1.30" fill="rgb(130,130,130)" filter="url(#b3)"/>
<rect x="35.20" y="315.20" width="10.00" height="3.00" rx="1.50" fill="rgb(94,94,94)" filter="url(#b3)"/>
<rect x="48.40" y="310.30" width="10.00" height="2.60" rx="1.30" fill="rgb(142,142,142)" filter="url(#b3)"/>
<rect x="48.40" y="315.20" width="10.00" height="3.00" rx="1.50" fill="rgb(106,106,106)" filter="url(#b3)"/>
<rect x="62.10" y="310.30" width="10.00" height="2.60" rx="1.30" fill="rgb(201,201,201)" filter="url(#b3)"/>
<rect x="62.10" y="315.20" width="10.00" height="3.00" rx="1.50" fill="rgb(106,106,106)" filter="url(#b3)"/>
<rect x="75.50" y="308.90" width="12.00" height="11.00" rx="2.50" fill="rgb(24,24,24)" filter="url(#b3)"/>
<rect x="76.25" y="311.40" width="10.50" height="8.00" rx="2.50" fill="rgb(0,0,0)" filter="url(#b3)"/>
<rect x="91.30" y="310.30" width="10.00" height="2.60" rx="1.30" fill="rgb(106,106,106)" filter="url(#b3)"/>
<rect x="91.30" y="315.20" width="10.00" height="3.00" rx="1.50" fill="rgb(71,71,71)" filter="url(#b3)"/>
<rect x="110.30" y="309.80" width="11.00" height="3.00" rx="1.50" fill="rgb(142,142,142)" filter="url(#b3)"/>
<rect x="110.30" y="315.00" width="11.00" height="3.40" rx="1.70" fill="rgb(106,106,106)" filter="url(#b3)"/>
<rect x="123.70" y="307.95" width="15.00" height="12.50" rx="2.50" fill="rgb(24,24,24)" filter="url(#b3)"/>
<rect x="124.70" y="310.70" width="13.00" height="9.00" rx="2.50" fill="rgb(0,0,0)" filter="url(#b3)"/>
<rect x="139.90" y="309.80" width="11.00" height="3.00" rx="1.50" fill="rgb(94,94,94)" filter="url(#b3)"/>
<rect x="139.90" y="315.00" width="11.00" height="3.40" rx="1.70" fill="rgb(59,59,59)" filter="url(#b3)"/>
<rect x="154.70" y="309.80" width="11.00" height="3.00" rx="1.50" fill="rgb(165,165,165)" filter="url(#b3)"/>
<rect x="154.70" y="315.00" width="11.00" height="3.40" rx="1.70" fill="rgb(130,130,130)" filter="url(#b3)"/>
<rect x="167.90" y="307.95" width="15.00" height="12.50" rx="2.50" fill="rgb(24,24,24)" filter="url(#b3)"/>
<rect x="168.90" y="310.70" width="13.00" height="9.00" rx="2.50" fill="rgb(0,0,0)" filter="url(#b3)"/>
<rect x="184.70" y="309.80" width="11.00" height="3.00" rx="1.50" fill="rgb(106,106,106)" filter="url(#b3)"/>
<rect x="184.70" y="315.00" width="11.00" height="3.40" rx="1.70" fill="rgb(71,71,71)" filter="url(#b3)"/>
<rect x="18.20" y="204.40" width="86.60" height="59.10" fill="none" stroke="#383838" stroke-width="1.4"/>
<rect x="18.20" y="270.10" width="86.40" height="30.00" fill="none" stroke="#383838" stroke-width="1.4"/>
<rect x="18.20" y="303.40" width="86.40" height="22.10" fill="none" stroke="#383838" stroke-width="1.4"/>
<rect x="108.60" y="204.30" width="130.90" height="58.90" fill="none" stroke="#383838" stroke-width="1.4"/>
<rect x="108.60" y="270.40" width="130.90" height="29.80" fill="none" stroke="#383838" stroke-width="1.4"/>
<rect x="108.60" y="303.30" width="92.80" height="22.60" fill="none" stroke="#383838" stroke-width="1.4"/>
<text x="243.80" y="215.20" font-size="8.6" text-anchor="start" font-weight="bold" textLength="28.2" lengthAdjust="spacingAndGlyphs"  stroke="#000" stroke-width="0.15">JMJD1C</text>
<text x="243.80" y="260.50" font-size="8.6" text-anchor="start" font-weight="bold" textLength="35" lengthAdjust="spacingAndGlyphs"  stroke="#000" stroke-width="0.15">VINCULIN</text>
<text x="243.80" y="288.20" font-size="8.6" text-anchor="start" font-weight="bold" textLength="18.2" lengthAdjust="spacingAndGlyphs"  stroke="#000" stroke-width="0.15">PARP</text>
<text x="243.30" y="316.60" font-size="9.4" text-anchor="start" fill="#4a4a4a" textLength="36.5" lengthAdjust="spacingAndGlyphs" stroke="#4a4a4a" stroke-width="0.15">Caspase3</text>
<text x="294.00" y="167.60" font-size="12.8" text-anchor="start" font-weight="bold"  stroke="#000" stroke-width="0.4">D</text>
<line x1="333.50" y1="166.60" x2="333.50" y2="301.80" stroke="#8a8a8a" stroke-width="1" />
<line x1="331.00" y1="301.80" x2="333.50" y2="301.80" stroke="#8a8a8a" stroke-width="1" />
<text x="325.50" y="304.90" font-size="8.6" text-anchor="end" font-weight="bold"  stroke="#000" stroke-width="0.15">0</text>
<line x1="331.00" y1="284.90" x2="333.50" y2="284.90" stroke="#8a8a8a" stroke-width="1" />
<text x="325.50" y="288.00" font-size="8.6" text-anchor="end" font-weight="bold"  stroke="#000" stroke-width="0.15">10</text>
<line x1="331.00" y1="268.00" x2="333.50" y2="268.00" stroke="#8a8a8a" stroke-width="1" />
<text x="325.50" y="271.10" font-size="8.6" text-anchor="end" font-weight="bold"  stroke="#000" stroke-width="0.15">20</text>
<line x1="331.00" y1="251.10" x2="333.50" y2="251.10" stroke="#8a8a8a" stroke-width="1" />
<text x="325.50" y="254.20" font-size="8.6" text-anchor="end" font-weight="bold"  stroke="#000" stroke-width="0.15">30</text>
<line x1="331.00" y1="234.20" x2="333.50" y2="234.20" stroke="#8a8a8a" stroke-width="1" />
<text x="325.50" y="237.30" font-size="8.6" text-anchor="end" font-weight="bold"  stroke="#000" stroke-width="0.15">40</text>
<line x1="331.00" y1="217.30" x2="333.50" y2="217.30" stroke="#8a8a8a" stroke-width="1" />
<text x="325.50" y="220.40" font-size="8.6" text-anchor="end" font-weight="bold"  stroke="#000" stroke-width="0.15">50</text>
<line x1="331.00" y1="200.40" x2="333.50" y2="200.40" stroke="#8a8a8a" stroke-width="1" />
<text x="325.50" y="203.50" font-size="8.6" text-anchor="end" font-weight="bold"  stroke="#000" stroke-width="0.15">60</text>
<line x1="331.00" y1="183.50" x2="333.50" y2="183.50" stroke="#8a8a8a" stroke-width="1" />
<text x="325.50" y="186.60" font-size="8.6" text-anchor="end" font-weight="bold"  stroke="#000" stroke-width="0.15">70</text>
<line x1="331.00" y1="166.60" x2="333.50" y2="166.60" stroke="#8a8a8a" stroke-width="1" />
<text x="325.50" y="169.70" font-size="8.6" text-anchor="end" font-weight="bold"  stroke="#000" stroke-width="0.15">80</text>
<line x1="333.50" y1="301.80" x2="483.00" y2="301.80" stroke="#8a8a8a" stroke-width="1" />
<line x1="333.50" y1="301.80" x2="333.50" y2="304.30" stroke="#8a8a8a" stroke-width="1" />
<text x="333.50" y="317.50" font-size="8.6" text-anchor="middle" font-weight="bold"  stroke="#000" stroke-width="0.15">0</text>
<line x1="362.80" y1="301.80" x2="362.80" y2="304.30" stroke="#8a8a8a" stroke-width="1" />
<text x="362.80" y="317.50" font-size="8.6" text-anchor="middle" font-weight="bold"  stroke="#000" stroke-width="0.15">1</text>
<line x1="392.10" y1="301.80" x2="392.10" y2="304.30" stroke="#8a8a8a" stroke-width="1" />
<text x="392.10" y="317.50" font-size="8.6" text-anchor="middle" font-weight="bold"  stroke="#000" stroke-width="0.15">2</text>
<line x1="421.40" y1="301.80" x2="421.40" y2="304.30" stroke="#8a8a8a" stroke-width="1" />
<text x="421.40" y="317.50" font-size="8.6" text-anchor="middle" font-weight="bold"  stroke="#000" stroke-width="0.15">3</text>
<line x1="450.70" y1="301.80" x2="450.70" y2="304.30" stroke="#8a8a8a" stroke-width="1" />
<text x="450.70" y="317.50" font-size="8.6" text-anchor="middle" font-weight="bold"  stroke="#000" stroke-width="0.15">4</text>
<line x1="480.00" y1="301.80" x2="480.00" y2="304.30" stroke="#8a8a8a" stroke-width="1" />
<text x="480.00" y="317.50" font-size="8.6" text-anchor="middle" font-weight="bold"  stroke="#000" stroke-width="0.15">5</text>
<text x="407.00" y="323.30" font-size="8.6" text-anchor="middle" font-weight="bold" textLength="16" lengthAdjust="spacingAndGlyphs"  stroke="#000" stroke-width="0.15">days</text>
<text x="311.20" y="236.00" font-size="8.6" text-anchor="middle" font-weight="bold" textLength="82" lengthAdjust="spacingAndGlyphs" transform="rotate(-90 311.20 236.00)"  stroke="#000" stroke-width="0.15">cell number (millions)</text>
<line x1="480.00" y1="186.37" x2="480.00" y2="212.06" stroke="#222" stroke-width="1" />
<line x1="477.50" y1="186.37" x2="482.50" y2="186.37" stroke="#222" stroke-width="1" />
<line x1="477.50" y1="212.06" x2="482.50" y2="212.06" stroke="#222" stroke-width="1" />
<line x1="480.00" y1="221.02" x2="480.00" y2="232.34" stroke="#222" stroke-width="1" />
<line x1="477.50" y1="221.02" x2="482.50" y2="221.02" stroke="#222" stroke-width="1" />
<line x1="477.50" y1="232.34" x2="482.50" y2="232.34" stroke="#222" stroke-width="1" />
<line x1="480.00" y1="254.48" x2="480.00" y2="266.99" stroke="#222" stroke-width="1" />
<line x1="477.50" y1="254.48" x2="482.50" y2="254.48" stroke="#222" stroke-width="1" />
<line x1="477.50" y1="266.99" x2="482.50" y2="266.99" stroke="#222" stroke-width="1" />
<line x1="450.70" y1="245.69" x2="450.70" y2="250.76" stroke="#222" stroke-width="1" />
<line x1="448.70" y1="245.69" x2="452.70" y2="245.69" stroke="#222" stroke-width="1" />
<line x1="448.70" y1="250.76" x2="452.70" y2="250.76" stroke="#222" stroke-width="1" />
<polyline points="333.50,292.50 362.80,289.97 392.10,280.68 421.40,268.00 450.70,248.23 480.00,199.05" fill="none" stroke="#000" stroke-width="2.6" stroke-linejoin="round"/>
<path d="M333.50,288.50 L337.50,292.50 L333.50,296.50 L329.50,292.50 Z" fill="#000" stroke="none" stroke-width="1" />
<path d="M362.80,285.97 L366.80,289.97 L362.80,293.97 L358.80,289.97 Z" fill="#000" stroke="none" stroke-width="1" />
<path d="M392.10,276.68 L396.10,280.68 L392.10,284.68 L388.10,280.68 Z" fill="#000" stroke="none" stroke-width="1" />
<path d="M421.40,264.00 L425.40,268.00 L421.40,272.00 L417.40,268.00 Z" fill="#000" stroke="none" stroke-width="1" />
<path d="M450.70,244.23 L454.70,248.23 L450.70,252.23 L446.70,248.23 Z" fill="#000" stroke="none" stroke-width="1" />
<path d="M480.00,195.05 L484.00,199.05 L480.00,203.05 L476.00,199.05 Z" fill="#000" stroke="none" stroke-width="1" />
<polyline points="333.50,292.50 362.80,289.97 392.10,282.70 421.40,278.99 450.70,275.44 480.00,261.41" fill="none" stroke="#808080" stroke-width="2.6" stroke-linejoin="round"/>
<rect x="329.70" y="288.70" width="7.60" height="7.60" fill="#808080" />
<rect x="359.00" y="286.17" width="7.60" height="7.60" fill="#808080" />
<rect x="388.30" y="278.90" width="7.60" height="7.60" fill="#808080" />
<rect x="417.60" y="275.19" width="7.60" height="7.60" fill="#808080" />
<rect x="446.90" y="271.64" width="7.60" height="7.60" fill="#808080" />
<rect x="476.20" y="257.61" width="7.60" height="7.60" fill="#808080" />
<polyline points="333.50,292.50 362.80,289.97 392.10,280.68 421.40,271.55 450.70,259.04 480.00,227.78" fill="none" stroke="#b8b8b8" stroke-width="2.6" stroke-linejoin="round"/>
<path d="M333.50,288.00 L338.00,295.50 L329.00,295.50 Z" fill="#b8b8b8" stroke="none" stroke-width="1" />
<path d="M362.80,285.47 L367.30,292.97 L358.30,292.97 Z" fill="#b8b8b8" stroke="none" stroke-width="1" />
<path d="M392.10,276.18 L396.60,283.68 L387.60,283.68 Z" fill="#b8b8b8" stroke="none" stroke-width="1" />
<path d="M421.40,267.05 L425.90,274.55 L416.90,274.55 Z" fill="#b8b8b8" stroke="none" stroke-width="1" />
<path d="M450.70,254.54 L455.20,262.04 L446.20,262.04 Z" fill="#b8b8b8" stroke="none" stroke-width="1" />
<path d="M480.00,223.28 L484.50,230.78 L475.50,230.78 Z" fill="#b8b8b8" stroke="none" stroke-width="1" />
<polyline points="395.10,279.48 421.40,268.00 450.70,248.23 480.00,199.05" fill="none" stroke="#000" stroke-width="2.6" stroke-linejoin="round"/>
<path d="M421.40,264.00 L425.40,268.00 L421.40,272.00 L417.40,268.00 Z" fill="#000" stroke="none" stroke-width="1" />
<path d="M450.70,244.23 L454.70,248.23 L450.70,252.23 L446.70,248.23 Z" fill="#000" stroke="none" stroke-width="1" />
<path d="M480.00,195.05 L484.00,199.05 L480.00,203.05 L476.00,199.05 Z" fill="#000" stroke="none" stroke-width="1" />
<line x1="353.00" y1="181.90" x2="372.70" y2="181.90" stroke="#000" stroke-width="2.4" />
<path d="M362.8,178.9 L365.8,181.9 L362.8,184.9 L359.8,181.9 Z" fill="#000" stroke="none" stroke-width="1" />
<text x="377.00" y="185.00" font-size="8.8" text-anchor="start" font-weight="bold" textLength="31.3" lengthAdjust="spacingAndGlyphs"  stroke="#000" stroke-width="0.15">pLKO Scr</text>
<line x1="353.00" y1="197.90" x2="372.70" y2="197.90" stroke="#808080" stroke-width="2.4" />
<rect x="360.30" y="195.40" width="5.00" height="5.00" fill="#808080" />
<text x="377.00" y="201.00" font-size="8.8" text-anchor="start" font-weight="bold" textLength="51.8" lengthAdjust="spacingAndGlyphs"  stroke="#000" stroke-width="0.15">shJMJD1C#i60</text>
<line x1="353.00" y1="213.80" x2="372.70" y2="213.80" stroke="#b8b8b8" stroke-width="2.4" />
<path d="M362.8,210.6 L366,216 L359.6,216 Z" fill="#b8b8b8" stroke="none" stroke-width="1" />
<text x="377.00" y="217.00" font-size="8.8" text-anchor="start" font-weight="bold" textLength="51.8" lengthAdjust="spacingAndGlyphs"  stroke="#000" stroke-width="0.15">shJMJD1C#i61</text>
<text x="2.00" y="348.80" font-size="13" text-anchor="start" font-weight="bold"  stroke="#000" stroke-width="0.4">E</text>
<line x1="24.10" y1="377.70" x2="24.10" y2="446.60" stroke="#8a8a8a" stroke-width="1" />
<line x1="24.10" y1="377.70" x2="127.80" y2="377.70" stroke="#a0a0a0" stroke-width="1.2" />
<line x1="24.10" y1="412.15" x2="127.80" y2="412.15" stroke="#a0a0a0" stroke-width="1.2" />
<line x1="24.10" y1="446.60" x2="127.80" y2="446.60" stroke="#8a8a8a" stroke-width="1" />
<line x1="24.10" y1="446.60" x2="24.10" y2="449.10" stroke="#8a8a8a" stroke-width="1" />
<line x1="50.02" y1="446.60" x2="50.02" y2="449.10" stroke="#8a8a8a" stroke-width="1" />
<line x1="75.95" y1="446.60" x2="75.95" y2="449.10" stroke="#8a8a8a" stroke-width="1" />
<line x1="101.88" y1="446.60" x2="101.88" y2="449.10" stroke="#8a8a8a" stroke-width="1" />
<line x1="127.80" y1="446.60" x2="127.80" y2="449.10" stroke="#8a8a8a" stroke-width="1" />
<line x1="21.60" y1="446.60" x2="24.10" y2="446.60" stroke="#8a8a8a" stroke-width="1" />
<text x="16.60" y="449.60" font-size="8.4" text-anchor="middle" font-weight="bold"  stroke="#000" stroke-width="0.15">0</text>
<line x1="21.60" y1="412.15" x2="24.10" y2="412.15" stroke="#8a8a8a" stroke-width="1" />
<text x="16.60" y="415.15" font-size="8.4" text-anchor="middle" font-weight="bold"  stroke="#000" stroke-width="0.15">1</text>
<line x1="21.60" y1="377.70" x2="24.10" y2="377.70" stroke="#8a8a8a" stroke-width="1" />
<text x="16.60" y="380.70" font-size="8.4" text-anchor="middle" font-weight="bold"  stroke="#000" stroke-width="0.15">2</text>
<rect x="32.30" y="411.46" width="10.70" height="35.14" fill="#7f7f7f" />
<rect x="58.10" y="408.71" width="10.70" height="37.89" fill="#7f7f7f" />
<rect x="83.90" y="412.84" width="10.70" height="33.76" fill="#7f7f7f" />
<rect x="109.70" y="415.60" width="10.70" height="31.00" fill="#7f7f7f" />
<line x1="37.65" y1="411.12" x2="37.65" y2="412.15" stroke="#111" stroke-width="1" />
<line x1="35.15" y1="411.12" x2="40.15" y2="411.12" stroke="#111" stroke-width="1" />
<line x1="35.15" y1="412.15" x2="40.15" y2="412.15" stroke="#111" stroke-width="1" />
<line x1="63.45" y1="405.26" x2="63.45" y2="412.15" stroke="#111" stroke-width="1" />
<line x1="60.95" y1="405.26" x2="65.95" y2="405.26" stroke="#111" stroke-width="1" />
<line x1="60.95" y1="412.15" x2="65.95" y2="412.15" stroke="#111" stroke-width="1" />
<line x1="89.25" y1="411.46" x2="89.25" y2="414.22" stroke="#111" stroke-width="1" />
<line x1="86.75" y1="411.46" x2="91.75" y2="411.46" stroke="#111" stroke-width="1" />
<line x1="86.75" y1="414.22" x2="91.75" y2="414.22" stroke="#111" stroke-width="1" />
<line x1="115.05" y1="411.12" x2="115.05" y2="419.73" stroke="#111" stroke-width="1" />
<line x1="112.55" y1="411.12" x2="117.55" y2="411.12" stroke="#111" stroke-width="1" />
<line x1="112.55" y1="419.73" x2="117.55" y2="419.73" stroke="#111" stroke-width="1" />
<text x="75.40" y="389.30" font-size="9.4" text-anchor="middle" font-weight="bold"  stroke="#000" stroke-width="0.15">S</text>
<text x="37.65" y="460.80" font-size="8.2" text-anchor="middle" font-weight="bold" textLength="18" lengthAdjust="spacingAndGlyphs"  stroke="#000" stroke-width="0.15">day 0</text>
<text x="63.45" y="460.80" font-size="8.2" text-anchor="middle" font-weight="bold" textLength="18" lengthAdjust="spacingAndGlyphs"  stroke="#000" stroke-width="0.15">day 1</text>
<text x="89.25" y="460.80" font-size="8.2" text-anchor="middle" font-weight="bold" textLength="18" lengthAdjust="spacingAndGlyphs"  stroke="#000" stroke-width="0.15">day 2</text>
<text x="115.05" y="460.80" font-size="8.2" text-anchor="middle" font-weight="bold" textLength="18" lengthAdjust="spacingAndGlyphs"  stroke="#000" stroke-width="0.15">day 3</text>
<text x="9.00" y="412.90" font-size="7.2" text-anchor="middle" font-style="italic" textLength="37" lengthAdjust="spacingAndGlyphs" transform="rotate(-90 9.00 412.90)" stroke="#000" stroke-width="0.2">sh#60 / Scr</text>
<line x1="24.10" y1="474.80" x2="24.10" y2="542.80" stroke="#8a8a8a" stroke-width="1" />
<line x1="24.10" y1="474.80" x2="127.80" y2="474.80" stroke="#a0a0a0" stroke-width="1.2" />
<line x1="24.10" y1="508.80" x2="127.80" y2="508.80" stroke="#a0a0a0" stroke-width="1.2" />
<line x1="24.10" y1="542.80" x2="127.80" y2="542.80" stroke="#8a8a8a" stroke-width="1" />
<line x1="24.10" y1="542.80" x2="24.10" y2="545.30" stroke="#8a8a8a" stroke-width="1" />
<line x1="50.02" y1="542.80" x2="50.02" y2="545.30" stroke="#8a8a8a" stroke-width="1" />
<line x1="75.95" y1="542.80" x2="75.95" y2="545.30" stroke="#8a8a8a" stroke-width="1" />
<line x1="101.88" y1="542.80" x2="101.88" y2="545.30" stroke="#8a8a8a" stroke-width="1" />
<line x1="127.80" y1="542.80" x2="127.80" y2="545.30" stroke="#8a8a8a" stroke-width="1" />
<line x1="21.60" y1="542.80" x2="24.10" y2="542.80" stroke="#8a8a8a" stroke-width="1" />
<text x="16.60" y="545.80" font-size="8.4" text-anchor="middle" font-weight="bold"  stroke="#000" stroke-width="0.15">0</text>
<line x1="21.60" y1="508.80" x2="24.10" y2="508.80" stroke="#8a8a8a" stroke-width="1" />
<text x="16.60" y="511.80" font-size="8.4" text-anchor="middle" font-weight="bold"  stroke="#000" stroke-width="0.15">1</text>
<line x1="21.60" y1="474.80" x2="24.10" y2="474.80" stroke="#8a8a8a" stroke-width="1" />
<text x="16.60" y="477.80" font-size="8.4" text-anchor="middle" font-weight="bold"  stroke="#000" stroke-width="0.15">2</text>
<rect x="32.90" y="508.80" width="10.70" height="34.00" fill="#7f7f7f" />
<rect x="59.20" y="509.82" width="10.70" height="32.98" fill="#7f7f7f" />
<rect x="84.50" y="507.78" width="10.70" height="35.02" fill="#7f7f7f" />
<rect x="110.30" y="508.80" width="10.70" height="34.00" fill="#7f7f7f" />
<line x1="38.25" y1="508.46" x2="38.25" y2="509.14" stroke="#111" stroke-width="1" />
<line x1="35.75" y1="508.46" x2="40.75" y2="508.46" stroke="#111" stroke-width="1" />
<line x1="35.75" y1="509.14" x2="40.75" y2="509.14" stroke="#111" stroke-width="1" />
<line x1="64.55" y1="508.46" x2="64.55" y2="511.18" stroke="#111" stroke-width="1" />
<line x1="62.05" y1="508.46" x2="67.05" y2="508.46" stroke="#111" stroke-width="1" />
<line x1="62.05" y1="511.18" x2="67.05" y2="511.18" stroke="#111" stroke-width="1" />
<line x1="89.85" y1="506.42" x2="89.85" y2="509.14" stroke="#111" stroke-width="1" />
<line x1="87.35" y1="506.42" x2="92.35" y2="506.42" stroke="#111" stroke-width="1" />
<line x1="87.35" y1="509.14" x2="92.35" y2="509.14" stroke="#111" stroke-width="1" />
<line x1="115.65" y1="506.76" x2="115.65" y2="510.84" stroke="#111" stroke-width="1" />
<line x1="113.15" y1="506.76" x2="118.15" y2="506.76" stroke="#111" stroke-width="1" />
<line x1="113.15" y1="510.84" x2="118.15" y2="510.84" stroke="#111" stroke-width="1" />
<text x="77.00" y="489.40" font-size="9.4" text-anchor="middle" font-weight="bold"  stroke="#000" stroke-width="0.15">G0/1</text>
<text x="38.25" y="556.30" font-size="8.2" text-anchor="middle" font-weight="bold" textLength="18" lengthAdjust="spacingAndGlyphs"  stroke="#000" stroke-width="0.15">day 0</text>
<text x="64.55" y="556.30" font-size="8.2" text-anchor="middle" font-weight="bold" textLength="18" lengthAdjust="spacingAndGlyphs"  stroke="#000" stroke-width="0.15">day 1</text>
<text x="89.85" y="556.30" font-size="8.2" text-anchor="middle" font-weight="bold" textLength="18" lengthAdjust="spacingAndGlyphs"  stroke="#000" stroke-width="0.15">day 2</text>
<text x="115.65" y="556.30" font-size="8.2" text-anchor="middle" font-weight="bold" textLength="18" lengthAdjust="spacingAndGlyphs"  stroke="#000" stroke-width="0.15">day 3</text>
<text x="9.00" y="508.90" font-size="7.2" text-anchor="middle" font-style="italic" textLength="37" lengthAdjust="spacingAndGlyphs" transform="rotate(-90 9.00 508.90)" stroke="#000" stroke-width="0.2">sh#60 / Scr</text>
<line x1="21.30" y1="569.30" x2="21.30" y2="637.30" stroke="#8a8a8a" stroke-width="1" />
<line x1="21.30" y1="569.30" x2="127.80" y2="569.30" stroke="#a0a0a0" stroke-width="1.2" />
<line x1="21.30" y1="603.30" x2="127.80" y2="603.30" stroke="#a0a0a0" stroke-width="1.2" />
<line x1="21.30" y1="637.30" x2="127.80" y2="637.30" stroke="#8a8a8a" stroke-width="1" />
<line x1="21.30" y1="637.30" x2="21.30" y2="639.80" stroke="#8a8a8a" stroke-width="1" />
<line x1="47.92" y1="637.30" x2="47.92" y2="639.80" stroke="#8a8a8a" stroke-width="1" />
<line x1="74.55" y1="637.30" x2="74.55" y2="639.80" stroke="#8a8a8a" stroke-width="1" />
<line x1="101.17" y1="637.30" x2="101.17" y2="639.80" stroke="#8a8a8a" stroke-width="1" />
<line x1="127.80" y1="637.30" x2="127.80" y2="639.80" stroke="#8a8a8a" stroke-width="1" />
<line x1="18.80" y1="637.30" x2="21.30" y2="637.30" stroke="#8a8a8a" stroke-width="1" />
<text x="13.80" y="640.30" font-size="8.4" text-anchor="middle" font-weight="bold"  stroke="#000" stroke-width="0.15">0</text>
<line x1="18.80" y1="603.30" x2="21.30" y2="603.30" stroke="#8a8a8a" stroke-width="1" />
<text x="13.80" y="606.30" font-size="8.4" text-anchor="middle" font-weight="bold"  stroke="#000" stroke-width="0.15">1</text>
<line x1="18.80" y1="569.30" x2="21.30" y2="569.30" stroke="#8a8a8a" stroke-width="1" />
<text x="13.80" y="572.30" font-size="8.4" text-anchor="middle" font-weight="bold"  stroke="#000" stroke-width="0.15">2</text>
<rect x="30.00" y="606.02" width="10.70" height="31.28" fill="#7f7f7f" />
<rect x="56.40" y="609.08" width="10.70" height="28.22" fill="#7f7f7f" />
<rect x="83.00" y="604.32" width="10.70" height="32.98" fill="#7f7f7f" />
<rect x="109.30" y="592.08" width="10.70" height="45.22" fill="#7f7f7f" />
<line x1="35.35" y1="604.66" x2="35.35" y2="607.38" stroke="#111" stroke-width="1" />
<line x1="32.85" y1="604.66" x2="37.85" y2="604.66" stroke="#111" stroke-width="1" />
<line x1="32.85" y1="607.38" x2="37.85" y2="607.38" stroke="#111" stroke-width="1" />
<line x1="61.75" y1="603.30" x2="61.75" y2="614.18" stroke="#111" stroke-width="1" />
<line x1="59.25" y1="603.30" x2="64.25" y2="603.30" stroke="#111" stroke-width="1" />
<line x1="59.25" y1="614.18" x2="64.25" y2="614.18" stroke="#111" stroke-width="1" />
<line x1="88.35" y1="598.88" x2="88.35" y2="609.08" stroke="#111" stroke-width="1" />
<line x1="85.85" y1="598.88" x2="90.85" y2="598.88" stroke="#111" stroke-width="1" />
<line x1="85.85" y1="609.08" x2="90.85" y2="609.08" stroke="#111" stroke-width="1" />
<line x1="114.65" y1="582.90" x2="114.65" y2="599.90" stroke="#111" stroke-width="1" />
<line x1="112.15" y1="582.90" x2="117.15" y2="582.90" stroke="#111" stroke-width="1" />
<line x1="112.15" y1="599.90" x2="117.15" y2="599.90" stroke="#111" stroke-width="1" />
<text x="70.50" y="580.40" font-size="9.4" text-anchor="middle" font-weight="bold"  stroke="#000" stroke-width="0.15">G2/M</text>
<text x="35.35" y="650.60" font-size="8.2" text-anchor="middle" font-weight="bold" textLength="18" lengthAdjust="spacingAndGlyphs"  stroke="#000" stroke-width="0.15">day 0</text>
<text x="61.75" y="650.60" font-size="8.2" text-anchor="middle" font-weight="bold" textLength="18" lengthAdjust="spacingAndGlyphs"  stroke="#000" stroke-width="0.15">day 1</text>
<text x="88.35" y="650.60" font-size="8.2" text-anchor="middle" font-weight="bold" textLength="18" lengthAdjust="spacingAndGlyphs"  stroke="#000" stroke-width="0.15">day 2</text>
<text x="114.65" y="650.60" font-size="8.2" text-anchor="middle" font-weight="bold" textLength="18" lengthAdjust="spacingAndGlyphs"  stroke="#000" stroke-width="0.15">day 3</text>
<text x="6.30" y="603.00" font-size="7.2" text-anchor="middle" font-style="italic" textLength="37" lengthAdjust="spacingAndGlyphs" transform="rotate(-90 6.30 603.00)" stroke="#000" stroke-width="0.2">ShJ#60 / Scr</text>
<text x="167.60" y="349.30" font-size="13" text-anchor="start" font-weight="bold"  stroke="#000" stroke-width="0.4">F</text>
<line x1="199.30" y1="359.50" x2="212.00" y2="359.50" stroke="#a0a0a0" stroke-width="1.6" />
<text x="215.60" y="362.30" font-size="8.4" text-anchor="start" font-weight="bold" fill="#8e8e8e" textLength="53" lengthAdjust="spacingAndGlyphs" stroke="#8e8e8e" stroke-width="0.2">shJmjd1c_868</text>
<line x1="199.30" y1="368.30" x2="212.00" y2="368.30" stroke="#000" stroke-width="1.6" />
<text x="215.60" y="371.00" font-size="8.4" text-anchor="start" font-weight="bold" textLength="20.5" lengthAdjust="spacingAndGlyphs" stroke="#000" stroke-width="0.2">shScr</text>
<line x1="302.30" y1="359.50" x2="315.00" y2="359.50" stroke="#a0a0a0" stroke-width="1.6" />
<text x="318.60" y="362.30" font-size="8.4" text-anchor="start" font-weight="bold" fill="#8e8e8e" textLength="53" lengthAdjust="spacingAndGlyphs" stroke="#8e8e8e" stroke-width="0.2">shJmjd1c_868</text>
<line x1="302.30" y1="368.30" x2="315.00" y2="368.30" stroke="#000" stroke-width="1.6" />
<text x="318.60" y="371.00" font-size="8.4" text-anchor="start" font-weight="bold" textLength="20.5" lengthAdjust="spacingAndGlyphs" stroke="#000" stroke-width="0.2">shScr</text>
<path d="M190.7,450.8 L192.0,455.5 L196.1,454.8 L201.5,453.4 L208.2,451.4 L212.9,450.1 L214.9,446.7 L217.6,442.7 L220.3,440.0 L222.3,433.3 L224.3,429.2 L227.0,419.8 L229.0,411.7 L231.1,402.3 L232.4,394.2 L233.8,387.5 L235.8,380.1 L237.1,382.1 L238.5,386.2 L240.5,394.2 L241.8,402.3 L243.2,414.4 L244.5,427.9 L245.9,438.6 L247.2,448.1 L249.2,454.8 L252.6,456.1 L252.6,456.6 L190.7,456.6 Z" fill="#b2b2b2" stroke="none" stroke-width="1" />
<path d="M190.7,450.8 L192.0,455.5 L196.1,454.8 L201.5,453.4 L208.2,451.4 L212.9,450.1 L214.9,446.7 L217.6,442.7 L220.3,440.0 L222.3,433.3 L224.3,429.2 L227.0,419.8 L229.0,411.7 L231.1,402.3 L232.4,394.2 L233.8,387.5 L235.8,380.1 L237.1,382.1 L238.5,386.2 L240.5,394.2 L241.8,402.3 L243.2,414.4 L244.5,427.9 L245.9,438.6 L247.2,448.1 L249.2,454.8 L252.6,456.1" fill="none" stroke="#222" stroke-width="0.9" stroke-linejoin="round"/>
<path d="M190.7,456.1 L208.2,455.5 L216.3,454.8 L220.3,453.4 L223.0,449.4 L225.7,442.7 L227.0,436.0 L229.7,423.8 L231.7,414.4 L233.1,405.0 L234.4,395.6 L235.8,384.8 L236.7,380.1 L237.8,382.8 L239.1,387.5 L240.5,399.6 L241.8,409.0 L243.2,419.8 L244.5,429.2 L246.5,442.7 L247.9,450.8 L249.9,455.5 L255.3,456.1 L273.5,456.3" fill="none" stroke="#000" stroke-width="1.5" stroke-linejoin="round"/>
<line x1="190.70" y1="374.50" x2="273.50" y2="374.50" stroke="#777" stroke-width="1" />
<line x1="273.50" y1="374.50" x2="273.50" y2="456.60" stroke="#777" stroke-width="1" />
<line x1="190.70" y1="374.50" x2="190.70" y2="456.60" stroke="#111" stroke-width="1.1" />
<line x1="190.70" y1="456.60" x2="273.50" y2="456.60" stroke="#111" stroke-width="1.1" />
<line x1="188.20" y1="456.60" x2="190.70" y2="456.60" stroke="#111" stroke-width="0.9" />
<text x="187.40" y="458.50" font-size="5.4" text-anchor="end" font-weight="bold" stroke="#000" stroke-width="0.25">0</text>
<line x1="188.20" y1="441.04" x2="190.70" y2="441.04" stroke="#111" stroke-width="0.9" />
<text x="187.40" y="442.94" font-size="5.4" text-anchor="end" font-weight="bold" stroke="#000" stroke-width="0.25">20</text>
<line x1="188.20" y1="425.48" x2="190.70" y2="425.48" stroke="#111" stroke-width="0.9" />
<text x="187.40" y="427.38" font-size="5.4" text-anchor="end" font-weight="bold" stroke="#000" stroke-width="0.25">40</text>
<line x1="188.20" y1="409.92" x2="190.70" y2="409.92" stroke="#111" stroke-width="0.9" />
<text x="187.40" y="411.82" font-size="5.4" text-anchor="end" font-weight="bold" stroke="#000" stroke-width="0.25">60</text>
<line x1="188.20" y1="394.36" x2="190.70" y2="394.36" stroke="#111" stroke-width="0.9" />
<text x="187.40" y="396.26" font-size="5.4" text-anchor="end" font-weight="bold" stroke="#000" stroke-width="0.25">80</text>
<line x1="188.20" y1="378.80" x2="190.70" y2="378.80" stroke="#111" stroke-width="0.9" />
<text x="187.40" y="380.70" font-size="5.4" text-anchor="end" font-weight="bold" stroke="#000" stroke-width="0.25">100</text>
<line x1="189.50" y1="452.71" x2="190.70" y2="452.71" stroke="#555" stroke-width="0.5" />
<line x1="189.50" y1="448.82" x2="190.70" y2="448.82" stroke="#555" stroke-width="0.5" />
<line x1="189.50" y1="444.93" x2="190.70" y2="444.93" stroke="#555" stroke-width="0.5" />
<line x1="189.50" y1="441.04" x2="190.70" y2="441.04" stroke="#555" stroke-width="0.5" />
<line x1="189.50" y1="437.15" x2="190.70" y2="437.15" stroke="#555" stroke-width="0.5" />
<line x1="189.50" y1="433.26" x2="190.70" y2="433.26" stroke="#555" stroke-width="0.5" />
<line x1="189.50" y1="429.37" x2="190.70" y2="429.37" stroke="#555" stroke-width="0.5" />
<line x1="189.50" y1="425.48" x2="190.70" y2="425.48" stroke="#555" stroke-width="0.5" />
<line x1="189.50" y1="421.59" x2="190.70" y2="421.59" stroke="#555" stroke-width="0.5" />
<line x1="189.50" y1="417.70" x2="190.70" y2="417.70" stroke="#555" stroke-width="0.5" />
<line x1="189.50" y1="413.81" x2="190.70" y2="413.81" stroke="#555" stroke-width="0.5" />
<line x1="189.50" y1="409.92" x2="190.70" y2="409.92" stroke="#555" stroke-width="0.5" />
<line x1="189.50" y1="406.03" x2="190.70" y2="406.03" stroke="#555" stroke-width="0.5" />
<line x1="189.50" y1="402.14" x2="190.70" y2="402.14" stroke="#555" stroke-width="0.5" />
<line x1="189.50" y1="398.25" x2="190.70" y2="398.25" stroke="#555" stroke-width="0.5" />
<line x1="189.50" y1="394.36" x2="190.70" y2="394.36" stroke="#555" stroke-width="0.5" />
<line x1="189.50" y1="390.47" x2="190.70" y2="390.47" stroke="#555" stroke-width="0.5" />
<line x1="189.50" y1="386.58" x2="190.70" y2="386.58" stroke="#555" stroke-width="0.5" />
<line x1="189.50" y1="382.69" x2="190.70" y2="382.69" stroke="#555" stroke-width="0.5" />
<line x1="189.50" y1="378.80" x2="190.70" y2="378.80" stroke="#555" stroke-width="0.5" />
<text x="199.10" y="467.00" font-size="5.4" text-anchor="middle" font-weight="bold" stroke="#000" stroke-width="0.2">0</text>
<text x="207.00" y="467.00" font-size="5.4" text-anchor="middle" font-weight="bold" stroke="#000" stroke-width="0.2">10<tspan font-size="3.6" dy="-2">2</tspan></text>
<text x="228.10" y="467.00" font-size="5.4" text-anchor="middle" font-weight="bold" stroke="#000" stroke-width="0.2">10<tspan font-size="3.6" dy="-2">3</tspan></text>
<text x="246.70" y="467.00" font-size="5.4" text-anchor="middle" font-weight="bold" stroke="#000" stroke-width="0.2">10<tspan font-size="3.6" dy="-2">4</tspan></text>
<text x="264.70" y="467.00" font-size="5.4" text-anchor="middle" font-weight="bold" stroke="#000" stroke-width="0.2">10<tspan font-size="3.6" dy="-2">5</tspan></text>
<line x1="208.00" y1="456.60" x2="208.00" y2="458.60" stroke="#111" stroke-width="0.8" />
<line x1="229.10" y1="456.60" x2="229.10" y2="458.60" stroke="#111" stroke-width="0.8" />
<line x1="247.70" y1="456.60" x2="247.70" y2="458.60" stroke="#111" stroke-width="0.8" />
<line x1="265.70" y1="456.60" x2="265.70" y2="458.60" stroke="#111" stroke-width="0.8" />
<text x="231.40" y="476.20" font-size="8.4" text-anchor="middle" font-weight="bold" font-style="italic" textLength="16" lengthAdjust="spacingAndGlyphs"  stroke="#000" stroke-width="0.15">c-Kit</text>
<text x="176.00" y="410.70" font-size="8.6" text-anchor="middle" font-weight="bold" textLength="32" lengthAdjust="spacingAndGlyphs" transform="rotate(-90 176.00 410.70)"  stroke="#000" stroke-width="0.15">% of max</text>
<path d="M294.6,456.1 L313.5,456.1 L318.8,453.4 L322.9,445.4 L325.6,434.6 L328.3,421.1 L331.0,407.7 L333.0,396.9 L334.7,390.2 L335.7,382.1 L336.6,380.8 L338.4,384.8 L339.7,382.1 L340.4,391.5 L341.7,396.9 L343.1,405.0 L345.1,414.4 L347.1,423.8 L349.1,434.6 L351.1,444.0 L353.8,450.8 L357.9,454.8 L363.3,456.1 Z" fill="#dcdcdc" stroke="none" stroke-width="1" />
<path d="M294.6,456.1 L313.5,456.1 L318.8,453.4 L322.9,445.4 L325.6,434.6 L328.3,421.1 L331.0,407.7 L333.0,396.9 L334.7,390.2 L335.7,382.1 L336.6,380.8 L338.4,384.8 L339.7,382.1 L340.4,391.5 L341.7,396.9 L343.1,405.0 L345.1,414.4 L347.1,423.8 L349.1,434.6 L351.1,444.0 L353.8,450.8 L357.9,454.8 L363.3,456.1" fill="none" stroke="#9a9a9a" stroke-width="1.1" stroke-linejoin="round"/>
<path d="M294.6,456.3 L302.7,456.1 L312.1,454.1 L317.5,449.4 L320.2,444.0 L322.2,434.6 L324.2,423.8 L326.2,410.4 L328.3,396.9 L329.6,390.2 L331.2,384.8 L332.3,379.4 L333.4,386.2 L334.7,385.5 L336.3,392.9 L337.7,399.6 L339.7,406.3 L341.7,417.1 L343.1,425.2 L345.1,437.3 L347.1,446.7 L351.1,453.4 L357.9,456.1 L377.3,456.3" fill="none" stroke="#000" stroke-width="1.4" stroke-linejoin="round"/>
<line x1="294.40" y1="374.50" x2="377.30" y2="374.50" stroke="#777" stroke-width="1" />
<line x1="377.30" y1="374.50" x2="377.30" y2="456.60" stroke="#777" stroke-width="1" />
<line x1="294.40" y1="374.50" x2="294.40" y2="456.60" stroke="#111" stroke-width="1.1" />
<line x1="294.40" y1="456.60" x2="377.30" y2="456.60" stroke="#111" stroke-width="1.1" />
<line x1="291.90" y1="456.60" x2="294.40" y2="456.60" stroke="#111" stroke-width="0.9" />
<text x="291.10" y="458.50" font-size="5.4" text-anchor="end" font-weight="bold" stroke="#000" stroke-width="0.25">0</text>
<line x1="291.90" y1="441.04" x2="294.40" y2="441.04" stroke="#111" stroke-width="0.9" />
<text x="291.10" y="442.94" font-size="5.4" text-anchor="end" font-weight="bold" stroke="#000" stroke-width="0.25">20</text>
<line x1="291.90" y1="425.48" x2="294.40" y2="425.48" stroke="#111" stroke-width="0.9" />
<text x="291.10" y="427.38" font-size="5.4" text-anchor="end" font-weight="bold" stroke="#000" stroke-width="0.25">40</text>
<line x1="291.90" y1="409.92" x2="294.40" y2="409.92" stroke="#111" stroke-width="0.9" />
<text x="291.10" y="411.82" font-size="5.4" text-anchor="end" font-weight="bold" stroke="#000" stroke-width="0.25">60</text>
<line x1="291.90" y1="394.36" x2="294.40" y2="394.36" stroke="#111" stroke-width="0.9" />
<text x="291.10" y="396.26" font-size="5.4" text-anchor="end" font-weight="bold" stroke="#000" stroke-width="0.25">80</text>
<line x1="291.90" y1="378.80" x2="294.40" y2="378.80" stroke="#111" stroke-width="0.9" />
<text x="291.10" y="380.70" font-size="5.4" text-anchor="end" font-weight="bold" stroke="#000" stroke-width="0.25">100</text>
<line x1="293.20" y1="452.71" x2="294.40" y2="452.71" stroke="#555" stroke-width="0.5" />
<line x1="293.20" y1="448.82" x2="294.40" y2="448.82" stroke="#555" stroke-width="0.5" />
<line x1="293.20" y1="444.93" x2="294.40" y2="444.93" stroke="#555" stroke-width="0.5" />
<line x1="293.20" y1="441.04" x2="294.40" y2="441.04" stroke="#555" stroke-width="0.5" />
<line x1="293.20" y1="437.15" x2="294.40" y2="437.15" stroke="#555" stroke-width="0.5" />
<line x1="293.20" y1="433.26" x2="294.40" y2="433.26" stroke="#555" stroke-width="0.5" />
<line x1="293.20" y1="429.37" x2="294.40" y2="429.37" stroke="#555" stroke-width="0.5" />
<line x1="293.20" y1="425.48" x2="294.40" y2="425.48" stroke="#555" stroke-width="0.5" />
<line x1="293.20" y1="421.59" x2="294.40" y2="421.59" stroke="#555" stroke-width="0.5" />
<line x1="293.20" y1="417.70" x2="294.40" y2="417.70" stroke="#555" stroke-width="0.5" />
<line x1="293.20" y1="413.81" x2="294.40" y2="413.81" stroke="#555" stroke-width="0.5" />
<line x1="293.20" y1="409.92" x2="294.40" y2="409.92" stroke="#555" stroke-width="0.5" />
<line x1="293.20" y1="406.03" x2="294.40" y2="406.03" stroke="#555" stroke-width="0.5" />
<line x1="293.20" y1="402.14" x2="294.40" y2="402.14" stroke="#555" stroke-width="0.5" />
<line x1="293.20" y1="398.25" x2="294.40" y2="398.25" stroke="#555" stroke-width="0.5" />
<line x1="293.20" y1="394.36" x2="294.40" y2="394.36" stroke="#555" stroke-width="0.5" />
<line x1="293.20" y1="390.47" x2="294.40" y2="390.47" stroke="#555" stroke-width="0.5" />
<line x1="293.20" y1="386.58" x2="294.40" y2="386.58" stroke="#555" stroke-width="0.5" />
<line x1="293.20" y1="382.69" x2="294.40" y2="382.69" stroke="#555" stroke-width="0.5" />
<line x1="293.20" y1="378.80" x2="294.40" y2="378.80" stroke="#555" stroke-width="0.5" />
<text x="304.20" y="467.00" font-size="5.4" text-anchor="middle" font-weight="bold" stroke="#000" stroke-width="0.2">0</text>
<text x="311.50" y="467.00" font-size="5.4" text-anchor="middle" font-weight="bold" stroke="#000" stroke-width="0.2">10<tspan font-size="3.6" dy="-2">2</tspan></text>
<text x="331.80" y="467.00" font-size="5.4" text-anchor="middle" font-weight="bold" stroke="#000" stroke-width="0.2">10<tspan font-size="3.6" dy="-2">3</tspan></text>
<text x="350.80" y="467.00" font-size="5.4" text-anchor="middle" font-weight="bold" stroke="#000" stroke-width="0.2">10<tspan font-size="3.6" dy="-2">4</tspan></text>
<text x="368.80" y="467.00" font-size="5.4" text-anchor="middle" font-weight="bold" stroke="#000" stroke-width="0.2">10<tspan font-size="3.6" dy="-2">5</tspan></text>
<line x1="312.50" y1="456.60" x2="312.50" y2="458.60" stroke="#111" stroke-width="0.8" />
<line x1="332.80" y1="456.60" x2="332.80" y2="458.60" stroke="#111" stroke-width="0.8" />
<line x1="351.80" y1="456.60" x2="351.80" y2="458.60" stroke="#111" stroke-width="0.8" />
<line x1="369.80" y1="456.60" x2="369.80" y2="458.60" stroke="#111" stroke-width="0.8" />
<text x="336.40" y="476.30" font-size="8.4" text-anchor="middle" font-weight="bold" font-style="italic" textLength="19.6" lengthAdjust="spacingAndGlyphs"  stroke="#000" stroke-width="0.15">Mac1</text>
<path d="M190.9,545.8 L192.6,543.2 L193.9,539.3 L195.2,538.0 L196.5,540.6 L198.4,536.7 L200.4,530.2 L201.7,532.8 L203.7,523.7 L205.6,517.1 L207.6,510.6 L209.5,502.8 L211.5,498.9 L213.4,489.1 L214.7,487.8 L216.0,492.3 L217.3,495.0 L218.7,504.1 L220.0,517.1 L221.3,532.8 L222.6,547.1 L223.9,557.6 L225.2,561.5 L227.1,562.8 L231.0,564.1 L240.2,564.7 L273.7,564.9 L273.7,565.2 L190.9,565.2 Z" fill="#b2b2b2" stroke="none" stroke-width="1" />
<path d="M191.5,546.8 L193.2,544.2 L194.5,540.3 L195.8,539.0 L197.1,541.6 L199.0,537.7 L201.0,531.2 L202.3,533.8 L204.3,524.7 L206.2,518.1 L208.2,511.6 L210.1,503.8 L212.1,499.9 L213.4,489.1" fill="none" stroke="#333" stroke-width="0.8" />
<path d="M190.9,545.8 L192.6,543.2 L193.9,539.3 L195.2,538.0 L196.5,540.6 L198.4,536.7 L200.4,530.2 L201.7,532.8 L203.7,523.7 L205.6,517.1 L207.6,510.6 L209.5,502.8 L211.5,498.9 L213.4,489.1 L214.7,487.8 L216.0,492.3 L217.3,495.0 L218.7,504.1 L220.0,517.1 L221.3,532.8 L222.6,547.1 L223.9,557.6 L225.2,561.5 L227.1,562.8 L231.0,564.1 L240.2,564.7 L273.7,564.9" fill="none" stroke="#000" stroke-width="1.6" stroke-linejoin="round"/>
<line x1="190.80" y1="482.40" x2="273.70" y2="482.40" stroke="#777" stroke-width="1" />
<line x1="273.70" y1="482.40" x2="273.70" y2="565.00" stroke="#777" stroke-width="1" />
<line x1="190.80" y1="482.40" x2="190.80" y2="565.00" stroke="#111" stroke-width="1.1" />
<line x1="190.80" y1="565.00" x2="273.70" y2="565.00" stroke="#111" stroke-width="1.1" />
<line x1="188.30" y1="565.00" x2="190.80" y2="565.00" stroke="#111" stroke-width="0.9" />
<text x="187.50" y="566.90" font-size="5.4" text-anchor="end" font-weight="bold" stroke="#000" stroke-width="0.25">0</text>
<line x1="188.30" y1="549.34" x2="190.80" y2="549.34" stroke="#111" stroke-width="0.9" />
<text x="187.50" y="551.24" font-size="5.4" text-anchor="end" font-weight="bold" stroke="#000" stroke-width="0.25">20</text>
<line x1="188.30" y1="533.68" x2="190.80" y2="533.68" stroke="#111" stroke-width="0.9" />
<text x="187.50" y="535.58" font-size="5.4" text-anchor="end" font-weight="bold" stroke="#000" stroke-width="0.25">40</text>
<line x1="188.30" y1="518.02" x2="190.80" y2="518.02" stroke="#111" stroke-width="0.9" />
<text x="187.50" y="519.92" font-size="5.4" text-anchor="end" font-weight="bold" stroke="#000" stroke-width="0.25">60</text>
<line x1="188.30" y1="502.36" x2="190.80" y2="502.36" stroke="#111" stroke-width="0.9" />
<text x="187.50" y="504.26" font-size="5.4" text-anchor="end" font-weight="bold" stroke="#000" stroke-width="0.25">80</text>
<line x1="188.30" y1="486.70" x2="190.80" y2="486.70" stroke="#111" stroke-width="0.9" />
<text x="187.50" y="488.60" font-size="5.4" text-anchor="end" font-weight="bold" stroke="#000" stroke-width="0.25">100</text>
<line x1="189.60" y1="561.09" x2="190.80" y2="561.09" stroke="#555" stroke-width="0.5" />
<line x1="189.60" y1="557.17" x2="190.80" y2="557.17" stroke="#555" stroke-width="0.5" />
<line x1="189.60" y1="553.25" x2="190.80" y2="553.25" stroke="#555" stroke-width="0.5" />
<line x1="189.60" y1="549.34" x2="190.80" y2="549.34" stroke="#555" stroke-width="0.5" />
<line x1="189.60" y1="545.42" x2="190.80" y2="545.42" stroke="#555" stroke-width="0.5" />
<line x1="189.60" y1="541.51" x2="190.80" y2="541.51" stroke="#555" stroke-width="0.5" />
<line x1="189.60" y1="537.60" x2="190.80" y2="537.60" stroke="#555" stroke-width="0.5" />
<line x1="189.60" y1="533.68" x2="190.80" y2="533.68" stroke="#555" stroke-width="0.5" />
<line x1="189.60" y1="529.76" x2="190.80" y2="529.76" stroke="#555" stroke-width="0.5" />
<line x1="189.60" y1="525.85" x2="190.80" y2="525.85" stroke="#555" stroke-width="0.5" />
<line x1="189.60" y1="521.93" x2="190.80" y2="521.93" stroke="#555" stroke-width="0.5" />
<line x1="189.60" y1="518.02" x2="190.80" y2="518.02" stroke="#555" stroke-width="0.5" />
<line x1="189.60" y1="514.11" x2="190.80" y2="514.11" stroke="#555" stroke-width="0.5" />
<line x1="189.60" y1="510.19" x2="190.80" y2="510.19" stroke="#555" stroke-width="0.5" />
<line x1="189.60" y1="506.27" x2="190.80" y2="506.27" stroke="#555" stroke-width="0.5" />
<line x1="189.60" y1="502.36" x2="190.80" y2="502.36" stroke="#555" stroke-width="0.5" />
<line x1="189.60" y1="498.44" x2="190.80" y2="498.44" stroke="#555" stroke-width="0.5" />
<line x1="189.60" y1="494.53" x2="190.80" y2="494.53" stroke="#555" stroke-width="0.5" />
<line x1="189.60" y1="490.62" x2="190.80" y2="490.62" stroke="#555" stroke-width="0.5" />
<line x1="189.60" y1="486.70" x2="190.80" y2="486.70" stroke="#555" stroke-width="0.5" />
<text x="200.00" y="575.00" font-size="5.4" text-anchor="middle" font-weight="bold" stroke="#000" stroke-width="0.2">0</text>
<text x="207.50" y="575.00" font-size="5.4" text-anchor="middle" font-weight="bold" stroke="#000" stroke-width="0.2">10<tspan font-size="3.6" dy="-2">2</tspan></text>
<text x="227.50" y="575.00" font-size="5.4" text-anchor="middle" font-weight="bold" stroke="#000" stroke-width="0.2">10<tspan font-size="3.6" dy="-2">3</tspan></text>
<text x="246.25" y="575.00" font-size="5.4" text-anchor="middle" font-weight="bold" stroke="#000" stroke-width="0.2">10<tspan font-size="3.6" dy="-2">4</tspan></text>
<text x="265.00" y="575.00" font-size="5.4" text-anchor="middle" font-weight="bold" stroke="#000" stroke-width="0.2">10<tspan font-size="3.6" dy="-2">5</tspan></text>
<line x1="208.50" y1="565.00" x2="208.50" y2="567.00" stroke="#111" stroke-width="0.8" />
<line x1="228.50" y1="565.00" x2="228.50" y2="567.00" stroke="#111" stroke-width="0.8" />
<line x1="247.25" y1="565.00" x2="247.25" y2="567.00" stroke="#111" stroke-width="0.8" />
<line x1="266.00" y1="565.00" x2="266.00" y2="567.00" stroke="#111" stroke-width="0.8" />
<text x="231.25" y="583.20" font-size="8.4" text-anchor="middle" font-weight="bold" font-style="italic" textLength="51.5" lengthAdjust="spacingAndGlyphs"  stroke="#000" stroke-width="0.15">Isotype control</text>
<text x="176.00" y="520.50" font-size="8.6" text-anchor="middle" font-weight="bold" textLength="32" lengthAdjust="spacingAndGlyphs" transform="rotate(-90 176.00 520.50)"  stroke="#000" stroke-width="0.15">% of max</text>
<path d="M294.6,564.6 L296.5,563.3 L298.5,558.8 L299.8,551.0 L301.1,536.6 L302.0,523.6 L302.8,510.6 L303.4,504.1 L304.1,493.6 L304.7,487.8 L305.6,489.7 L306.3,497.5 L306.9,506.7 L307.6,517.1 L308.5,532.7 L309.5,547.1 L310.6,557.5 L311.9,562.7 L313.5,564.6 L378.0,564.8 L378,565.2 L294.6,565.2 Z" fill="#dadada" stroke="none" stroke-width="1" />
<path d="M294.6,564.6 L296.5,563.3 L298.5,558.8 L299.8,551.0 L301.1,536.6 L302.0,523.6 L302.8,510.6 L303.4,504.1 L304.1,493.6 L304.7,487.8 L305.6,489.7 L306.3,497.5 L306.9,506.7 L307.6,517.1 L308.5,532.7 L309.5,547.1 L310.6,557.5 L311.9,562.7 L313.5,564.6 L378.0,564.8" fill="none" stroke="#111" stroke-width="1.5" stroke-linejoin="round"/>
<line x1="294.40" y1="482.40" x2="378.00" y2="482.40" stroke="#777" stroke-width="1" />
<line x1="378.00" y1="482.40" x2="378.00" y2="565.00" stroke="#777" stroke-width="1" />
<line x1="294.40" y1="482.40" x2="294.40" y2="565.00" stroke="#111" stroke-width="1.1" />
<line x1="294.40" y1="565.00" x2="378.00" y2="565.00" stroke="#111" stroke-width="1.1" />
<line x1="291.90" y1="565.00" x2="294.40" y2="565.00" stroke="#111" stroke-width="0.9" />
<text x="291.10" y="566.90" font-size="5.4" text-anchor="end" font-weight="bold" stroke="#000" stroke-width="0.25">0</text>
<line x1="291.90" y1="549.34" x2="294.40" y2="549.34" stroke="#111" stroke-width="0.9" />
<text x="291.10" y="551.24" font-size="5.4" text-anchor="end" font-weight="bold" stroke="#000" stroke-width="0.25">20</text>
<line x1="291.90" y1="533.68" x2="294.40" y2="533.68" stroke="#111" stroke-width="0.9" />
<text x="291.10" y="535.58" font-size="5.4" text-anchor="end" font-weight="bold" stroke="#000" stroke-width="0.25">40</text>
<line x1="291.90" y1="518.02" x2="294.40" y2="518.02" stroke="#111" stroke-width="0.9" />
<text x="291.10" y="519.92" font-size="5.4" text-anchor="end" font-weight="bold" stroke="#000" stroke-width="0.25">60</text>
<line x1="291.90" y1="502.36" x2="294.40" y2="502.36" stroke="#111" stroke-width="0.9" />
<text x="291.10" y="504.26" font-size="5.4" text-anchor="end" font-weight="bold" stroke="#000" stroke-width="0.25">80</text>
<line x1="291.90" y1="486.70" x2="294.40" y2="486.70" stroke="#111" stroke-width="0.9" />
<text x="291.10" y="488.60" font-size="5.4" text-anchor="end" font-weight="bold" stroke="#000" stroke-width="0.25">100</text>
<line x1="293.20" y1="561.09" x2="294.40" y2="561.09" stroke="#555" stroke-width="0.5" />
<line x1="293.20" y1="557.17" x2="294.40" y2="557.17" stroke="#555" stroke-width="0.5" />
<line x1="293.20" y1="553.25" x2="294.40" y2="553.25" stroke="#555" stroke-width="0.5" />
<line x1="293.20" y1="549.34" x2="294.40" y2="549.34" stroke="#555" stroke-width="0.5" />
<line x1="293.20" y1="545.42" x2="294.40" y2="545.42" stroke="#555" stroke-width="0.5" />
<line x1="293.20" y1="541.51" x2="294.40" y2="541.51" stroke="#555" stroke-width="0.5" />
<line x1="293.20" y1="537.60" x2="294.40" y2="537.60" stroke="#555" stroke-width="0.5" />
<line x1="293.20" y1="533.68" x2="294.40" y2="533.68" stroke="#555" stroke-width="0.5" />
<line x1="293.20" y1="529.76" x2="294.40" y2="529.76" stroke="#555" stroke-width="0.5" />
<line x1="293.20" y1="525.85" x2="294.40" y2="525.85" stroke="#555" stroke-width="0.5" />
<line x1="293.20" y1="521.93" x2="294.40" y2="521.93" stroke="#555" stroke-width="0.5" />
<line x1="293.20" y1="518.02" x2="294.40" y2="518.02" stroke="#555" stroke-width="0.5" />
<line x1="293.20" y1="514.11" x2="294.40" y2="514.11" stroke="#555" stroke-width="0.5" />
<line x1="293.20" y1="510.19" x2="294.40" y2="510.19" stroke="#555" stroke-width="0.5" />
<line x1="293.20" y1="506.27" x2="294.40" y2="506.27" stroke="#555" stroke-width="0.5" />
<line x1="293.20" y1="502.36" x2="294.40" y2="502.36" stroke="#555" stroke-width="0.5" />
<line x1="293.20" y1="498.44" x2="294.40" y2="498.44" stroke="#555" stroke-width="0.5" />
<line x1="293.20" y1="494.53" x2="294.40" y2="494.53" stroke="#555" stroke-width="0.5" />
<line x1="293.20" y1="490.62" x2="294.40" y2="490.62" stroke="#555" stroke-width="0.5" />
<line x1="293.20" y1="486.70" x2="294.40" y2="486.70" stroke="#555" stroke-width="0.5" />
<text x="303.25" y="575.00" font-size="5.4" text-anchor="middle" font-weight="bold" stroke="#000" stroke-width="0.2">0</text>
<text x="310.00" y="575.00" font-size="5.4" text-anchor="middle" font-weight="bold" stroke="#000" stroke-width="0.2">10<tspan font-size="3.6" dy="-2">2</tspan></text>
<text x="331.25" y="575.00" font-size="5.4" text-anchor="middle" font-weight="bold" stroke="#000" stroke-width="0.2">10<tspan font-size="3.6" dy="-2">3</tspan></text>
<text x="351.25" y="575.00" font-size="5.4" text-anchor="middle" font-weight="bold" stroke="#000" stroke-width="0.2">10<tspan font-size="3.6" dy="-2">4</tspan></text>
<text x="370.00" y="575.00" font-size="5.4" text-anchor="middle" font-weight="bold" stroke="#000" stroke-width="0.2">10<tspan font-size="3.6" dy="-2">5</tspan></text>
<line x1="311.00" y1="565.00" x2="311.00" y2="567.00" stroke="#111" stroke-width="0.8" />
<line x1="332.25" y1="565.00" x2="332.25" y2="567.00" stroke="#111" stroke-width="0.8" />
<line x1="352.25" y1="565.00" x2="352.25" y2="567.00" stroke="#111" stroke-width="0.8" />
<line x1="371.00" y1="565.00" x2="371.00" y2="567.00" stroke="#111" stroke-width="0.8" />
<text x="336.40" y="583.20" font-size="8.4" text-anchor="middle" font-weight="bold" font-style="italic" textLength="51.3" lengthAdjust="spacingAndGlyphs"  stroke="#000" stroke-width="0.15">Isotype control</text>
<text x="407.90" y="349.40" font-size="13" text-anchor="start" font-weight="bold"  stroke="#000" stroke-width="0.4">G</text>
<line x1="449.30" y1="339.00" x2="449.30" y2="425.00" stroke="#8a8a8a" stroke-width="1" />
<line x1="449.30" y1="425.00" x2="510.00" y2="425.00" stroke="#8a8a8a" stroke-width="1" />
<line x1="469.50" y1="425.00" x2="469.50" y2="427.50" stroke="#8a8a8a" stroke-width="1" />
<line x1="489.80" y1="425.00" x2="489.80" y2="427.50" stroke="#8a8a8a" stroke-width="1" />
<line x1="510.00" y1="425.00" x2="510.00" y2="427.50" stroke="#8a8a8a" stroke-width="1" />
<line x1="446.80" y1="425.00" x2="449.30" y2="425.00" stroke="#8a8a8a" stroke-width="1" />
<text x="445.00" y="427.20" font-size="6.2" text-anchor="end" font-weight="bold"  stroke="#000" stroke-width="0.15">0</text>
<line x1="446.80" y1="414.25" x2="449.30" y2="414.25" stroke="#8a8a8a" stroke-width="1" />
<text x="445.00" y="416.45" font-size="6.2" text-anchor="end" font-weight="bold"  stroke="#000" stroke-width="0.15">20</text>
<line x1="446.80" y1="403.50" x2="449.30" y2="403.50" stroke="#8a8a8a" stroke-width="1" />
<text x="445.00" y="405.70" font-size="6.2" text-anchor="end" font-weight="bold"  stroke="#000" stroke-width="0.15">40</text>
<line x1="446.80" y1="392.75" x2="449.30" y2="392.75" stroke="#8a8a8a" stroke-width="1" />
<text x="445.00" y="394.95" font-size="6.2" text-anchor="end" font-weight="bold"  stroke="#000" stroke-width="0.15">60</text>
<line x1="446.80" y1="382.00" x2="449.30" y2="382.00" stroke="#8a8a8a" stroke-width="1" />
<text x="445.00" y="384.20" font-size="6.2" text-anchor="end" font-weight="bold"  stroke="#000" stroke-width="0.15">80</text>
<line x1="446.80" y1="371.25" x2="449.30" y2="371.25" stroke="#8a8a8a" stroke-width="1" />
<text x="445.00" y="373.45" font-size="6.2" text-anchor="end" font-weight="bold"  stroke="#000" stroke-width="0.15">100</text>
<line x1="446.80" y1="360.50" x2="449.30" y2="360.50" stroke="#8a8a8a" stroke-width="1" />
<text x="445.00" y="362.70" font-size="6.2" text-anchor="end" font-weight="bold"  stroke="#000" stroke-width="0.15">120</text>
<line x1="446.80" y1="349.75" x2="449.30" y2="349.75" stroke="#8a8a8a" stroke-width="1" />
<text x="445.00" y="351.95" font-size="6.2" text-anchor="end" font-weight="bold"  stroke="#000" stroke-width="0.15">140</text>
<line x1="446.80" y1="339.00" x2="449.30" y2="339.00" stroke="#8a8a8a" stroke-width="1" />
<text x="445.00" y="341.20" font-size="6.2" text-anchor="end" font-weight="bold"  stroke="#000" stroke-width="0.15">160</text>
<rect x="456.00" y="370.57" width="8.00" height="54.42" fill="url(#hatch)" stroke="#555" stroke-width="0.8"/>
<line x1="459.90" y1="368.56" x2="459.90" y2="370.18" stroke="#111" stroke-width="1.2" />
<line x1="456.90" y1="368.56" x2="462.90" y2="368.56" stroke="#111" stroke-width="1.2" />
<rect x="475.70" y="363.73" width="8.60" height="61.27" fill="#2e2e2e" />
<line x1="480.00" y1="358.35" x2="480.00" y2="363.73" stroke="#111" stroke-width="1.2" />
<line x1="477.00" y1="358.35" x2="483.00" y2="358.35" stroke="#111" stroke-width="1.2" />
<rect x="495.80" y="340.07" width="8.60" height="84.93" fill="#2e2e2e" />
<text x="478.50" y="345.50" font-size="8.6" text-anchor="middle" font-weight="bold" font-style="italic" textLength="18" lengthAdjust="spacingAndGlyphs" stroke="#000" stroke-width="0.3">Mac1</text>
<text x="431.30" y="377.50" font-size="8.6" text-anchor="middle" textLength="47.5" lengthAdjust="spacingAndGlyphs" transform="rotate(-90 431.30 377.50)" stroke="#000" stroke-width="0.3">Relative mRNA</text>
<text x="461.10" y="433.00" font-size="7.2" text-anchor="end" textLength="10.5" lengthAdjust="spacingAndGlyphs" transform="rotate(-45 461.10 433.00)" stroke="#000" stroke-width="0.3">Scr</text>
<text x="481.20" y="433.00" font-size="7.2" text-anchor="end" textLength="30" lengthAdjust="spacingAndGlyphs" transform="rotate(-45 481.20 433.00)" stroke="#000" stroke-width="0.3">shJ1C_867</text>
<text x="501.30" y="433.00" font-size="7.2" text-anchor="end" textLength="30" lengthAdjust="spacingAndGlyphs" transform="rotate(-45 501.30 433.00)" stroke="#000" stroke-width="0.3">shJ1C_868</text>
<line x1="449.60" y1="462.94" x2="449.60" y2="547.70" stroke="#8a8a8a" stroke-width="1" />
<line x1="449.60" y1="547.70" x2="510.00" y2="547.70" stroke="#8a8a8a" stroke-width="1" />
<line x1="469.50" y1="547.70" x2="469.50" y2="550.20" stroke="#8a8a8a" stroke-width="1" />
<line x1="489.80" y1="547.70" x2="489.80" y2="550.20" stroke="#8a8a8a" stroke-width="1" />
<line x1="510.00" y1="547.70" x2="510.00" y2="550.20" stroke="#8a8a8a" stroke-width="1" />
<line x1="447.10" y1="547.70" x2="449.60" y2="547.70" stroke="#8a8a8a" stroke-width="1" />
<text x="445.30" y="549.90" font-size="6.2" text-anchor="end" font-weight="bold"  stroke="#000" stroke-width="0.15">0</text>
<line x1="447.10" y1="534.66" x2="449.60" y2="534.66" stroke="#8a8a8a" stroke-width="1" />
<text x="445.30" y="536.86" font-size="6.2" text-anchor="end" font-weight="bold"  stroke="#000" stroke-width="0.15">40</text>
<line x1="447.10" y1="521.62" x2="449.60" y2="521.62" stroke="#8a8a8a" stroke-width="1" />
<text x="445.30" y="523.82" font-size="6.2" text-anchor="end" font-weight="bold"  stroke="#000" stroke-width="0.15">80</text>
<line x1="447.10" y1="508.58" x2="449.60" y2="508.58" stroke="#8a8a8a" stroke-width="1" />
<text x="445.30" y="510.78" font-size="6.2" text-anchor="end" font-weight="bold"  stroke="#000" stroke-width="0.15">120</text>
<line x1="447.10" y1="495.54" x2="449.60" y2="495.54" stroke="#8a8a8a" stroke-width="1" />
<text x="445.30" y="497.74" font-size="6.2" text-anchor="end" font-weight="bold"  stroke="#000" stroke-width="0.15">160</text>
<line x1="447.10" y1="482.50" x2="449.60" y2="482.50" stroke="#8a8a8a" stroke-width="1" />
<text x="445.30" y="484.70" font-size="6.2" text-anchor="end" font-weight="bold"  stroke="#000" stroke-width="0.15">200</text>
<line x1="447.10" y1="469.46" x2="449.60" y2="469.46" stroke="#8a8a8a" stroke-width="1" />
<text x="445.30" y="471.66" font-size="6.2" text-anchor="end" font-weight="bold"  stroke="#000" stroke-width="0.15">240</text>
<rect x="456.00" y="515.50" width="8.00" height="32.20" fill="url(#hatch)" stroke="#555" stroke-width="0.8"/>
<line x1="459.90" y1="513.80" x2="459.90" y2="515.10" stroke="#111" stroke-width="1.2" />
<line x1="456.90" y1="513.80" x2="462.90" y2="513.80" stroke="#111" stroke-width="1.2" />
<rect x="475.70" y="490.65" width="8.60" height="57.05" fill="#2e2e2e" />
<line x1="480.00" y1="482.50" x2="480.00" y2="490.65" stroke="#111" stroke-width="1.2" />
<line x1="477.00" y1="482.50" x2="483.00" y2="482.50" stroke="#111" stroke-width="1.2" />
<rect x="495.80" y="472.07" width="8.60" height="75.63" fill="#2e2e2e" />
<line x1="500.10" y1="464.57" x2="500.10" y2="472.07" stroke="#111" stroke-width="1.2" />
<line x1="497.10" y1="464.57" x2="503.10" y2="464.57" stroke="#111" stroke-width="1.2" />
<text x="482.40" y="471.80" font-size="8.6" text-anchor="middle" font-weight="bold" font-style="italic" textLength="16.2" lengthAdjust="spacingAndGlyphs" stroke="#000" stroke-width="0.3">Csfr1</text>
<text x="431.30" y="509.60" font-size="8.6" text-anchor="middle" textLength="47.5" lengthAdjust="spacingAndGlyphs" transform="rotate(-90 431.30 509.60)" stroke="#000" stroke-width="0.3">Relative mRNA</text>
<text x="461.10" y="555.70" font-size="7.2" text-anchor="end" textLength="10.5" lengthAdjust="spacingAndGlyphs" transform="rotate(-45 461.10 555.70)" stroke="#000" stroke-width="0.3">Scr</text>
<text x="481.20" y="555.70" font-size="7.2" text-anchor="end" textLength="30" lengthAdjust="spacingAndGlyphs" transform="rotate(-45 481.20 555.70)" stroke="#000" stroke-width="0.3">shJ1C_867</text>
<text x="501.30" y="555.70" font-size="7.2" text-anchor="end" textLength="30" lengthAdjust="spacingAndGlyphs" transform="rotate(-45 501.30 555.70)" stroke="#000" stroke-width="0.3">shJ1C_868</text>
<line x1="449.20" y1="594.34" x2="449.20" y2="675.00" stroke="#8a8a8a" stroke-width="1" />
<line x1="449.20" y1="675.00" x2="510.00" y2="675.00" stroke="#8a8a8a" stroke-width="1" />
<line x1="469.50" y1="675.00" x2="469.50" y2="677.50" stroke="#8a8a8a" stroke-width="1" />
<line x1="489.80" y1="675.00" x2="489.80" y2="677.50" stroke="#8a8a8a" stroke-width="1" />
<line x1="510.00" y1="675.00" x2="510.00" y2="677.50" stroke="#8a8a8a" stroke-width="1" />
<line x1="446.70" y1="675.00" x2="449.20" y2="675.00" stroke="#8a8a8a" stroke-width="1" />
<text x="444.90" y="677.20" font-size="6.2" text-anchor="end" font-weight="bold"  stroke="#000" stroke-width="0.15">0</text>
<line x1="446.70" y1="661.82" x2="449.20" y2="661.82" stroke="#8a8a8a" stroke-width="1" />
<text x="444.90" y="664.02" font-size="6.2" text-anchor="end" font-weight="bold"  stroke="#000" stroke-width="0.15">50</text>
<line x1="446.70" y1="648.64" x2="449.20" y2="648.64" stroke="#8a8a8a" stroke-width="1" />
<text x="444.90" y="650.84" font-size="6.2" text-anchor="end" font-weight="bold"  stroke="#000" stroke-width="0.15">100</text>
<line x1="446.70" y1="635.46" x2="449.20" y2="635.46" stroke="#8a8a8a" stroke-width="1" />
<text x="444.90" y="637.66" font-size="6.2" text-anchor="end" font-weight="bold"  stroke="#000" stroke-width="0.15">150</text>
<line x1="446.70" y1="622.28" x2="449.20" y2="622.28" stroke="#8a8a8a" stroke-width="1" />
<text x="444.90" y="624.48" font-size="6.2" text-anchor="end" font-weight="bold"  stroke="#000" stroke-width="0.15">200</text>
<line x1="446.70" y1="609.10" x2="449.20" y2="609.10" stroke="#8a8a8a" stroke-width="1" />
<text x="444.90" y="611.30" font-size="6.2" text-anchor="end" font-weight="bold"  stroke="#000" stroke-width="0.15">250</text>
<line x1="446.70" y1="595.92" x2="449.20" y2="595.92" stroke="#8a8a8a" stroke-width="1" />
<text x="444.90" y="598.12" font-size="6.2" text-anchor="end" font-weight="bold"  stroke="#000" stroke-width="0.15">300</text>
<rect x="456.00" y="648.51" width="8.00" height="26.49" fill="url(#hatch)" stroke="#555" stroke-width="0.8"/>
<line x1="459.90" y1="645.48" x2="459.90" y2="648.11" stroke="#111" stroke-width="1.2" />
<line x1="456.90" y1="645.48" x2="462.90" y2="645.48" stroke="#111" stroke-width="1.2" />
<rect x="475.70" y="600.40" width="8.60" height="74.60" fill="#2e2e2e" />
<line x1="480.00" y1="595.92" x2="480.00" y2="600.40" stroke="#111" stroke-width="1.2" />
<line x1="477.00" y1="595.92" x2="483.00" y2="595.92" stroke="#111" stroke-width="1.2" />
<rect x="495.80" y="600.40" width="8.60" height="74.60" fill="#2e2e2e" />
<line x1="500.10" y1="595.92" x2="500.10" y2="600.40" stroke="#111" stroke-width="1.2" />
<line x1="497.10" y1="595.92" x2="503.10" y2="595.92" stroke="#111" stroke-width="1.2" />
<text x="480.20" y="590.50" font-size="8.6" text-anchor="middle" font-weight="bold" font-style="italic" textLength="31.2" lengthAdjust="spacingAndGlyphs" stroke="#000" stroke-width="0.3">Lysozyme</text>
<text x="431.30" y="639.80" font-size="8.6" text-anchor="middle" textLength="47.5" lengthAdjust="spacingAndGlyphs" transform="rotate(-90 431.30 639.80)" stroke="#000" stroke-width="0.3">Relative mRNA</text>
<text x="461.10" y="683.00" font-size="7.2" text-anchor="end" textLength="10.5" lengthAdjust="spacingAndGlyphs" transform="rotate(-45 461.10 683.00)" stroke="#000" stroke-width="0.3">Scr</text>
<text x="481.20" y="683.00" font-size="7.2" text-anchor="end" textLength="30" lengthAdjust="spacingAndGlyphs" transform="rotate(-45 481.20 683.00)" stroke="#000" stroke-width="0.3">shJ1C_867</text>
<text x="501.30" y="683.00" font-size="7.2" text-anchor="end" textLength="30" lengthAdjust="spacingAndGlyphs" transform="rotate(-45 501.30 683.00)" stroke="#000" stroke-width="0.3">shJ1C_868</text>
<text x="167.60" y="612.50" font-size="13" text-anchor="start" font-weight="bold"  stroke="#000" stroke-width="0.4">H</text>
<text x="241.60" y="609.50" font-size="8.6" text-anchor="middle" font-weight="bold" textLength="19.5" lengthAdjust="spacingAndGlyphs"  stroke="#000" stroke-width="0.15">shScr</text>
<text x="330.00" y="610.60" font-size="8.6" text-anchor="middle" font-weight="bold" textLength="33" lengthAdjust="spacingAndGlyphs"  stroke="#000" stroke-width="0.15">shJmjd1c</text>
<rect x="201.5" y="613.9" width="77.40" height="58.40" fill="#f5f1f6" stroke="#3a3a3a" stroke-width="1.1"/>
<rect x="289.2" y="613.9" width="78.00" height="57.70" fill="#f5f1f6" stroke="#3a3a3a" stroke-width="1.1"/>
<g clip-path="url(#hc1)">
<circle cx="203.8" cy="619.2" r="3" fill="url(#cellg)" opacity="0.92" filter="url(#b3)"/>
<circle cx="203" cy="627" r="1.5" fill="url(#cellg)" opacity="0.55" filter="url(#b3)"/>
<circle cx="270.8" cy="617.4" r="3.5" fill="url(#cellg)" opacity="0.92" filter="url(#b3)"/>
<circle cx="266.9" cy="628.5" r="2.5" fill="url(#cellg)" opacity="0.92" filter="url(#b3)"/>
<circle cx="272.4" cy="628.5" r="2" fill="url(#cellg)" opacity="0.92" filter="url(#b3)"/>
<circle cx="265" cy="636" r="3" fill="url(#cellg)" opacity="0.92" filter="url(#b3)"/>
<circle cx="261.5" cy="640" r="3.5" fill="url(#cellg)" opacity="0.92" filter="url(#b3)"/>
<circle cx="255.8" cy="642.3" r="4" fill="url(#cellg)" opacity="0.92" filter="url(#b3)"/>
<circle cx="263.9" cy="643.9" r="4" fill="url(#cellg)" opacity="0.92" filter="url(#b3)"/>
<circle cx="241.9" cy="643.5" r="3.6" fill="url(#cellg)" opacity="0.92" filter="url(#b3)"/>
<circle cx="248.9" cy="650" r="3" fill="url(#cellg)" opacity="0.92" filter="url(#b3)"/>
<circle cx="230.4" cy="643.9" r="1.5" fill="url(#cellg)" opacity="0.55" filter="url(#b3)"/>
<circle cx="218.8" cy="643.9" r="3.6" fill="url(#cellg)" opacity="0.92" filter="url(#b3)"/>
<circle cx="223.5" cy="648" r="3" fill="url(#cellg)" opacity="0.92" filter="url(#b3)"/>
<circle cx="218.8" cy="652.7" r="4" fill="url(#cellg)" opacity="0.92" filter="url(#b3)"/>
<circle cx="228.1" cy="654.5" r="3.5" fill="url(#cellg)" opacity="0.92" filter="url(#b3)"/>
<circle cx="203.5" cy="641.2" r="1.5" fill="url(#cellg)" opacity="0.55" filter="url(#b3)"/>
<circle cx="267.3" cy="668.4" r="1" fill="url(#cellg)" opacity="0.55" filter="url(#b3)"/>
<circle cx="276.5" cy="669.3" r="1.2" fill="url(#cellg)" opacity="0.55" filter="url(#b3)"/>
</g><g clip-path="url(#hc2)">
<circle cx="319.2" cy="626.2" r="3.6" fill="url(#cellg)" opacity="0.92" filter="url(#b3)"/>
<circle cx="345.8" cy="625.5" r="3.5" fill="url(#cellg)" opacity="0.92" filter="url(#b3)"/>
<circle cx="352" cy="623.8" r="3.5" fill="url(#cellg)" opacity="0.92" filter="url(#b3)"/>
<circle cx="327.3" cy="632" r="1.5" fill="url(#cellg)" opacity="0.55" filter="url(#b3)"/>
<circle cx="297.3" cy="638.8" r="3.6" fill="url(#cellg)" opacity="0.92" filter="url(#b3)"/>
<circle cx="302.4" cy="635" r="3" fill="url(#cellg)" opacity="0.92" filter="url(#b3)"/>
<circle cx="307.7" cy="653.8" r="3" fill="url(#cellg)" opacity="0.92" filter="url(#b3)"/>
<circle cx="306.5" cy="658.5" r="3" fill="url(#cellg)" opacity="0.92" filter="url(#b3)"/>
<circle cx="314.2" cy="657.3" r="2" fill="url(#cellg)" opacity="0.92" filter="url(#b3)"/>
<circle cx="318.8" cy="652.2" r="3.5" fill="url(#cellg)" opacity="0.92" filter="url(#b3)"/>
<circle cx="319.7" cy="658.5" r="3" fill="url(#cellg)" opacity="0.92" filter="url(#b3)"/>
<circle cx="338.8" cy="650" r="4" fill="url(#cellg)" opacity="0.92" filter="url(#b3)"/>
<circle cx="341.2" cy="656.2" r="4" fill="url(#cellg)" opacity="0.92" filter="url(#b3)"/>
<circle cx="347" cy="661.5" r="3.5" fill="url(#cellg)" opacity="0.92" filter="url(#b3)"/>
<circle cx="349.2" cy="647.6" r="3.5" fill="url(#cellg)" opacity="0.92" filter="url(#b3)"/>
<circle cx="355" cy="643" r="4" fill="url(#cellg)" opacity="0.92" filter="url(#b3)"/>
<circle cx="366" cy="648.5" r="3" fill="url(#cellg)" opacity="0.92" filter="url(#b3)"/>
</g>
</svg>
</body></html>
